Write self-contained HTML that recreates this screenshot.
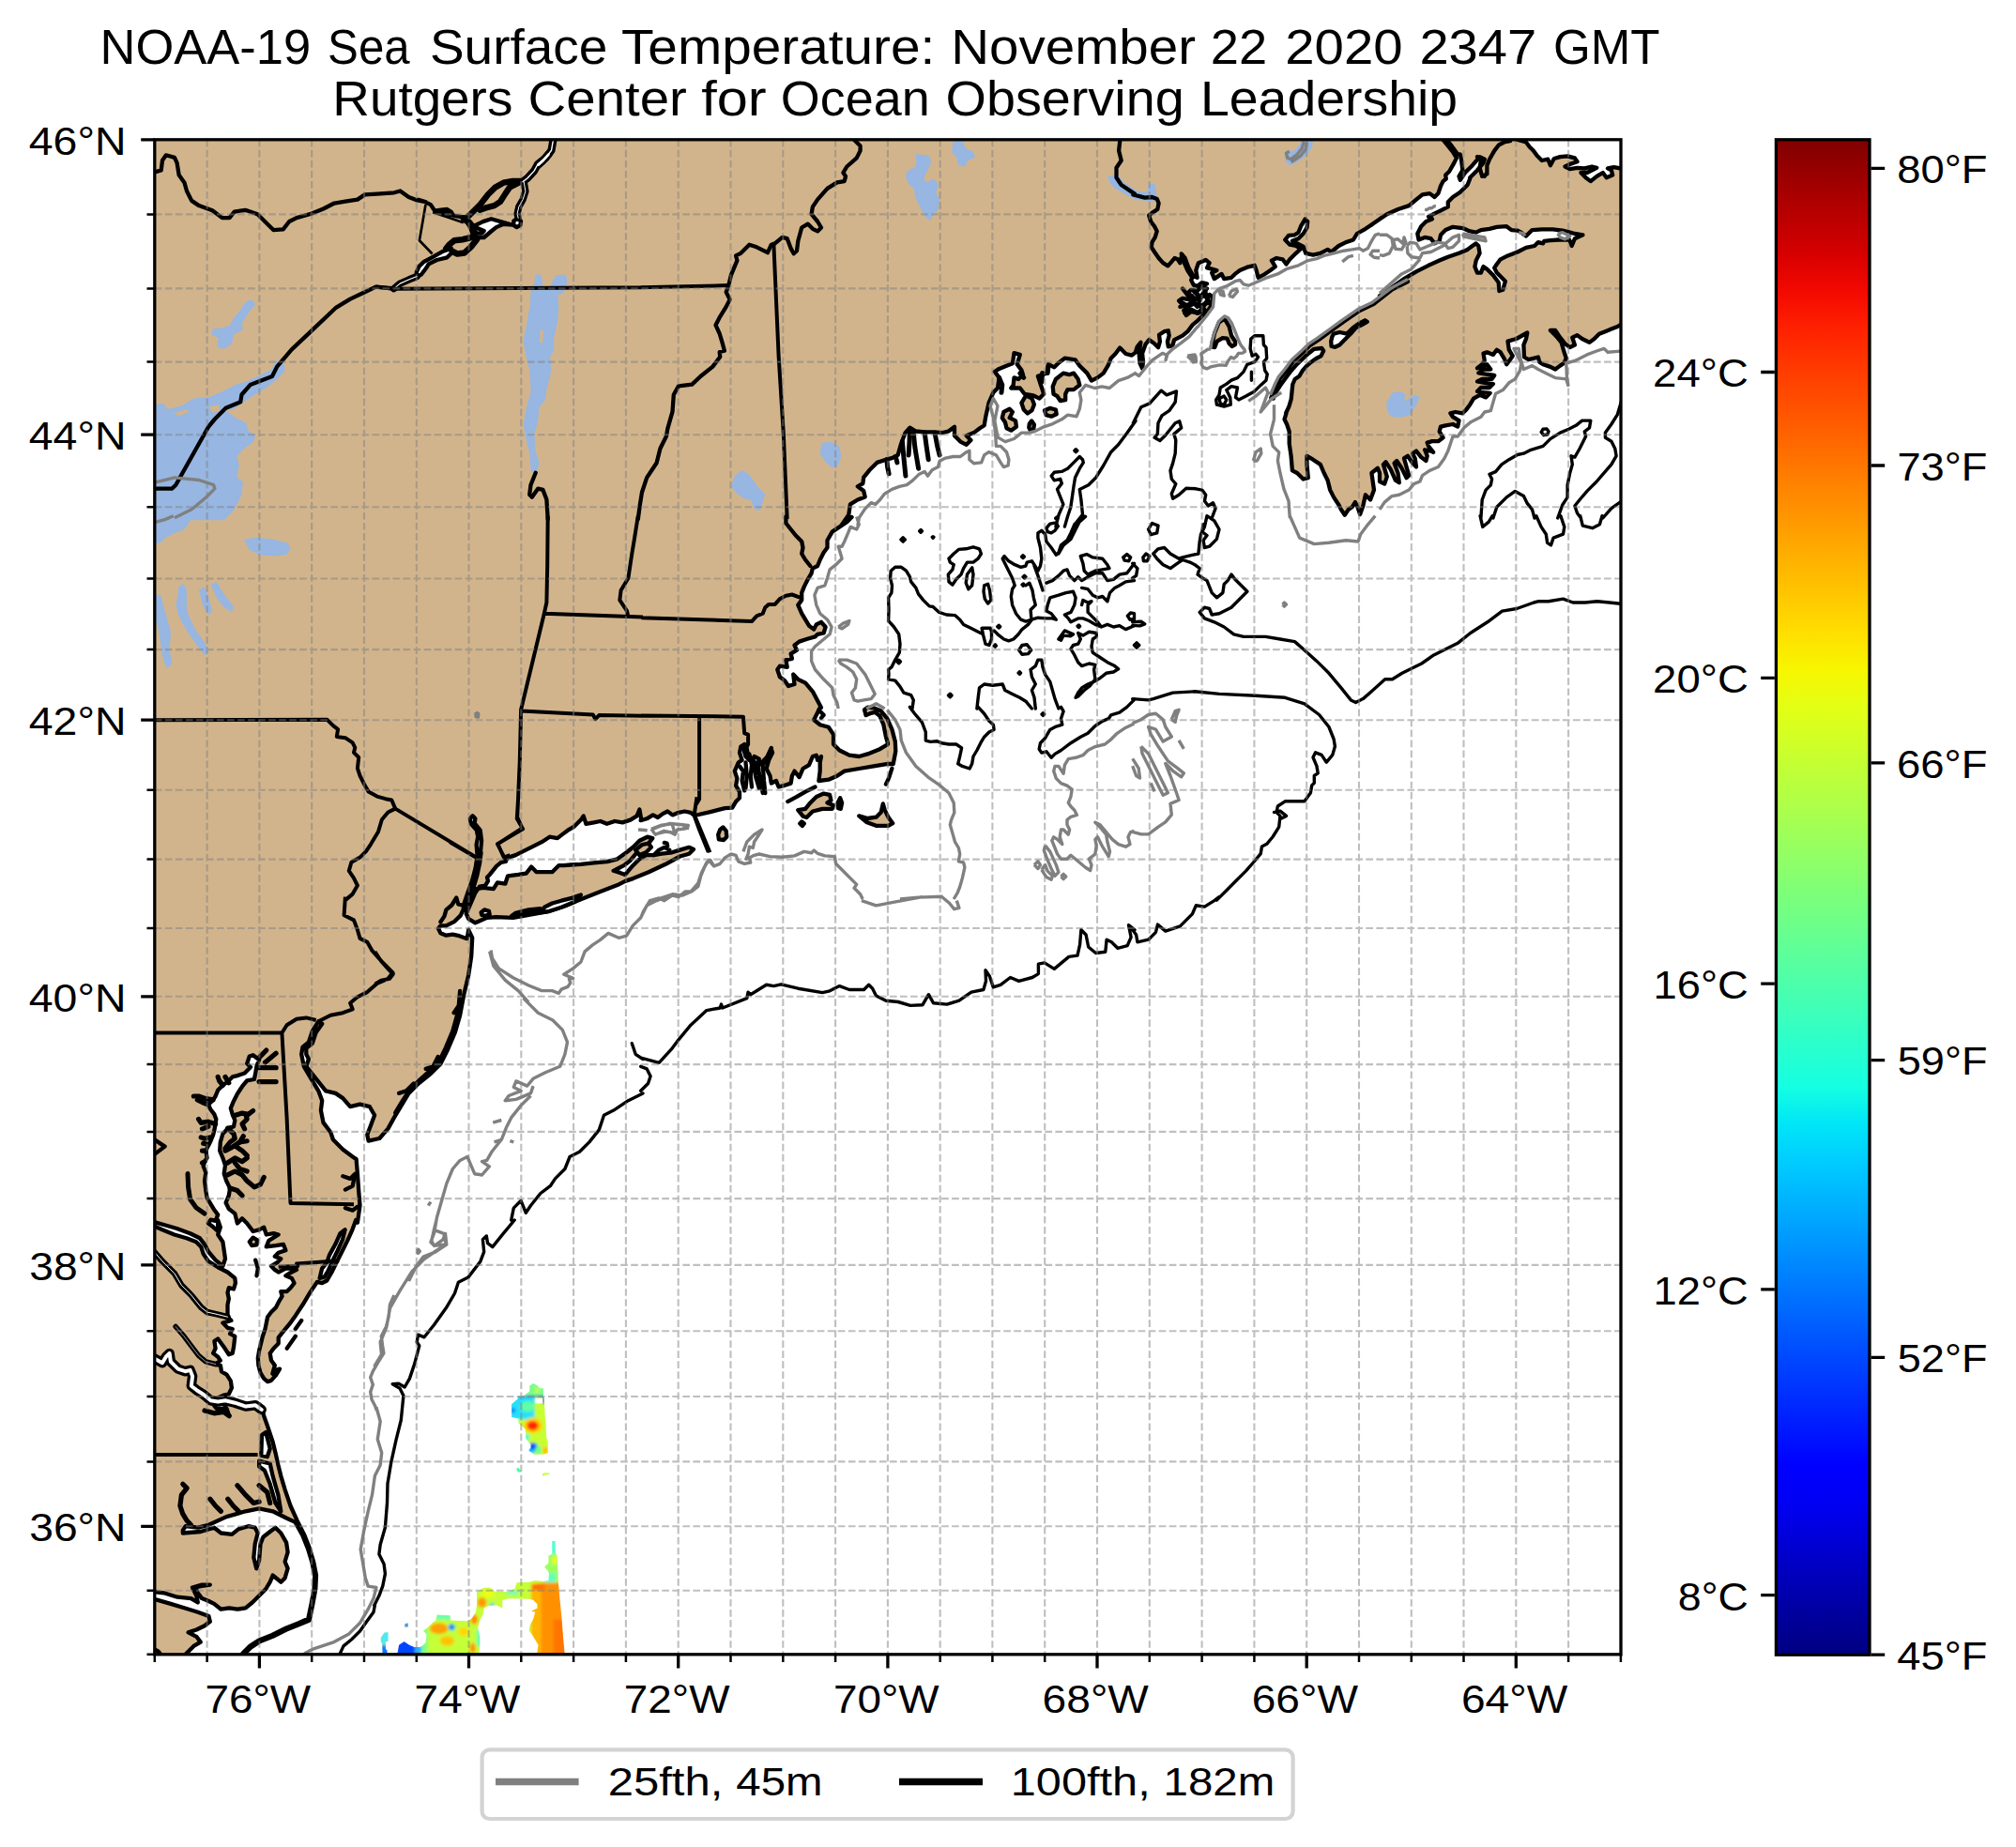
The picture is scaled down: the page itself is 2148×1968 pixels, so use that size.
<!DOCTYPE html>
<html><head><meta charset="utf-8"><title>NOAA-19 Sea Surface Temperature</title>
<style>html,body{margin:0;padding:0;background:#fff;}body{width:2148px;height:1968px;overflow:hidden;}svg{display:block;}text{font-family:"Liberation Sans",sans-serif;fill:#000;}</style></head><body>
<svg width="2148" height="1968" viewBox="0 0 2148 1968">
<defs><clipPath id="ax"><rect x="164.8" y="148.8" width="1562.2" height="1614.0"/></clipPath>
<linearGradient id="jet" x1="0" y1="0" x2="0" y2="1"><stop offset="0.0000" stop-color="#800000"/><stop offset="0.0250" stop-color="#9c0000"/><stop offset="0.0500" stop-color="#b90000"/><stop offset="0.0750" stop-color="#d60000"/><stop offset="0.1000" stop-color="#f30900"/><stop offset="0.1250" stop-color="#ff2100"/><stop offset="0.1500" stop-color="#ff3900"/><stop offset="0.1750" stop-color="#ff5000"/><stop offset="0.2000" stop-color="#ff6800"/><stop offset="0.2250" stop-color="#ff8000"/><stop offset="0.2500" stop-color="#ff9700"/><stop offset="0.2750" stop-color="#ffaf00"/><stop offset="0.3000" stop-color="#ffc600"/><stop offset="0.3250" stop-color="#ffde00"/><stop offset="0.3500" stop-color="#f7f600"/><stop offset="0.3750" stop-color="#e2ff15"/><stop offset="0.4000" stop-color="#ceff29"/><stop offset="0.4250" stop-color="#b9ff3e"/><stop offset="0.4500" stop-color="#a5ff52"/><stop offset="0.4750" stop-color="#90ff67"/><stop offset="0.5000" stop-color="#7bff7b"/><stop offset="0.5250" stop-color="#67ff90"/><stop offset="0.5500" stop-color="#52ffa5"/><stop offset="0.5750" stop-color="#3effb9"/><stop offset="0.6000" stop-color="#29ffce"/><stop offset="0.6250" stop-color="#15ffe2"/><stop offset="0.6500" stop-color="#00e5f7"/><stop offset="0.6750" stop-color="#00ccff"/><stop offset="0.7000" stop-color="#00b3ff"/><stop offset="0.7250" stop-color="#0099ff"/><stop offset="0.7500" stop-color="#0080ff"/><stop offset="0.7750" stop-color="#0066ff"/><stop offset="0.8000" stop-color="#004cff"/><stop offset="0.8250" stop-color="#0033ff"/><stop offset="0.8500" stop-color="#001aff"/><stop offset="0.8750" stop-color="#0000ff"/><stop offset="0.9000" stop-color="#0000f3"/><stop offset="0.9250" stop-color="#0000d6"/><stop offset="0.9500" stop-color="#0000b9"/><stop offset="0.9750" stop-color="#00009c"/><stop offset="1.0000" stop-color="#000080"/></linearGradient></defs>
<rect x="0" y="0" width="2148" height="1968" fill="#fff"/>
<g clip-path="url(#ax)">
<defs><filter id="sb1" x="-10%" y="-10%" width="120%" height="120%"><feGaussianBlur stdDeviation="17"/></filter><filter id="sb2" x="-10%" y="-10%" width="120%" height="120%"><feGaussianBlur stdDeviation="20"/></filter><clipPath id="sc1"><path d="M1725,385L1755,385L1758,500L1775,530L1780,640L1785,780L1800,950L1820,1150L1835,1350L1850,1500L1575,1500L1590,1400L1560,1350L1530,1300L1500,1260L1510,1200L1540,1150L1560,1080L1520,1070L1580,1040L1580,1000L1540,960L1500,950L1300,945L1240,960L1240,1040L1180,1010L1100,1020L1060,1040L1050,1100L1020,1160L1000,1230L1020,1320L1020,1400L1010,1500L210,1500L230,1400L280,1365L330,1400L380,1420L440,1420L490,1380L500,1300L470,1260L520,1220L560,1180L590,1160L600,1105L730,1110L735,1160L900,1165L940,1140L980,1080L990,1000L990,880L1060,840L1120,840L1170,880L1300,880L1360,850L1380,790L1500,785L1560,770L1640,780L1690,770L1695,700L1680,670L1650,640L1690,600L1690,530L1725,510ZM50,1330L90,1275L125,1275L125,1360L100,1370L100,1440L115,1450L115,1500L70,1500L65,1380L50,1375ZM285,1195L310,1185L320,1190L320,1225L285,1225Z"/></clipPath><clipPath id="sc2"><path clip-rule="evenodd" d="M545,330L590,295L640,320L680,360L725,360L725,465L738,490L740,560L745,700L760,850L765,1000L785,1060L785,1210L740,1225L610,1230L530,1175L560,1140L560,1100L495,1020L490,900L440,850L400,820L400,760L310,740L308,570L390,500L390,465L470,455L545,400ZM620,490L620,560L715,560L715,490ZM370,1410L400,1400L430,1440L425,1465L385,1455ZM715,1480L750,1468L810,1470L810,1488L745,1495L735,1512L715,1508Z"/></clipPath></defs><g transform="translate(400,1600) scale(0.10913)"><g clip-path="url(#sc1)"><g filter="url(#sb1)"><rect x="0" y="300" width="2016" height="1300" fill="#c4ff38"/><rect x="1520" y="800" width="120" height="760" fill="#ffb400"/><rect x="1620" y="790" width="260" height="780" fill="#ff9000"/><rect x="1740" y="1150" width="160" height="420" fill="#ff7400"/><ellipse cx="1590" cy="835" rx="70" ry="35" fill="#ff7000"/><rect x="1640" y="500" width="180" height="270" fill="#9cff60"/><rect x="1700" y="360" width="80" height="150" fill="#50ffd0"/><ellipse cx="1750" cy="570" rx="25" ry="50" fill="#e8ff18"/><rect x="1650" y="700" width="110" height="90" fill="#60ffc0"/><ellipse cx="1040" cy="985" rx="45" ry="50" fill="#ff9800"/><ellipse cx="1140" cy="1005" rx="22" ry="16" fill="#10c0ff"/><rect x="1280" y="870" width="120" height="40" fill="#70ffb0"/><ellipse cx="1100" cy="900" rx="70" ry="40" fill="#e8ff18"/><ellipse cx="620" cy="1240" rx="90" ry="55" fill="#ffa000"/><ellipse cx="700" cy="1360" rx="70" ry="50" fill="#ffc400"/><ellipse cx="860" cy="1270" rx="50" ry="45" fill="#ffd800"/><ellipse cx="965" cy="1150" rx="35" ry="50" fill="#ff9000"/><ellipse cx="950" cy="1430" rx="30" ry="50" fill="#ff9800"/><ellipse cx="745" cy="1225" rx="32" ry="32" fill="#0090ff"/><rect x="590" y="1100" width="150" height="50" fill="#60ffb0"/><rect x="990" y="1250" width="50" height="160" fill="#60ffb0"/><rect x="450" y="1240" width="60" height="240" fill="#80ff80"/><rect x="200" y="1350" width="190" height="160" fill="#0044ff"/><rect x="390" y="1400" width="60" height="110" fill="#20b0ff"/><rect x="40" y="1260" width="100" height="130" fill="#50e8f0"/><rect x="40" y="1400" width="100" height="110" fill="#1078ff"/><rect x="280" y="1180" width="45" height="50" fill="#1a70ff"/></g></g></g><g transform="translate(520,1450) scale(0.08121)"><g clip-path="url(#sc2)"><g filter="url(#sb2)"><rect x="250" y="250" width="600" height="1300" fill="#c8ff30"/><rect x="500" y="270" width="260" height="190" fill="#78ff88"/><ellipse cx="640" cy="390" rx="40" ry="40" fill="#b8ff50"/><rect x="280" y="470" width="330" height="300" fill="#28e0f8"/><rect x="380" y="455" width="360" height="22" fill="#1070e0"/><ellipse cx="325" cy="650" rx="35" ry="35" fill="#1088ff"/><ellipse cx="520" cy="600" rx="90" ry="70" fill="#60ffa0"/><ellipse cx="590" cy="850" rx="125" ry="105" fill="#ffd000"/><ellipse cx="585" cy="850" rx="75" ry="60" fill="#ff2800"/><rect x="480" y="960" width="60" height="80" fill="#40ffd0"/><ellipse cx="590" cy="1130" rx="60" ry="55" fill="#0058ff"/><ellipse cx="560" cy="1190" rx="60" ry="30" fill="#10c8ff"/><ellipse cx="660" cy="1170" rx="40" ry="60" fill="#70ff90"/><ellipse cx="755" cy="1175" rx="40" ry="45" fill="#ffc000"/><rect x="712" y="485" width="30" height="80" fill="#0040d0"/><rect x="350" y="1390" width="100" height="90" fill="#40ffb0"/></g></g></g><rect x="210.8" y="1623" width="3.2" height="10.5" fill="#1a6cff"/>
<path d="M160.0 1770.0L258.7 1767.0L260.1 1762.6L267.4 1755.4L276.1 1749.6L290.6 1743.8L305.1 1736.5L319.6 1730.7L329.8 1726.4L333.4 1708.9L336.3 1693.0L337.0 1678.5L334.1 1664.0L329.8 1649.5L324.0 1634.9L316.7 1620.4L309.5 1604.5L303.6 1587.1L299.3 1572.6L296.4 1560.9L293.5 1547.9L290.6 1536.3L284.8 1518.9L281.2 1508.7L279.0 1500.0L276.4 1496.4L270.9 1496.4L267.7 1500.8L258.9 1498.6L248.0 1494.2L241.5 1492.0L238.2 1495.3L241.5 1500.8L243.7 1507.3L240.4 1506.2L237.1 1500.8L230.6 1500.8L227.3 1496.4L231.6 1489.8L238.2 1486.6L243.7 1485.5L246.9 1478.9L245.8 1471.3L241.5 1464.7L236.0 1461.5L234.9 1454.9L228.4 1453.8L229.6 1453.5L234.8 1449.6L232.2 1445.7L227.1 1441.9L229.6 1436.7L228.4 1429.0L232.2 1426.4L238.7 1435.4L243.8 1443.2L247.7 1441.9L249.0 1435.4L250.3 1423.8L245.1 1421.2L247.7 1416.1L242.5 1414.8L237.4 1409.6L246.4 1407.0L242.5 1403.2L242.5 1390.3L243.8 1383.8L242.5 1377.4L243.8 1372.2L249.0 1373.5L250.9 1367.1L250.3 1361.9L242.5 1355.5L232.2 1350.3L221.9 1343.8L216.7 1336.1L214.2 1328.4L209.0 1323.2L198.7 1319.3L185.8 1315.5L172.9 1310.3L161.3 1305.2L161.3 1301.3L175.5 1305.2L188.4 1309.0L202.6 1314.2L212.9 1319.3L218.0 1325.8L221.9 1333.5L229.6 1342.6L237.4 1349.0L240.0 1341.3L238.7 1332.2L237.4 1323.2L232.2 1315.5L234.8 1307.7L232.2 1300.0L232.2 1312.0L227.1 1307.3L221.9 1303.5L224.5 1299.6L229.6 1300.9L232.2 1294.4L228.4 1289.3L224.5 1282.8L220.6 1276.4L219.3 1268.6L218.0 1258.3L219.3 1249.3L216.7 1242.8L218.0 1237.7L220.6 1233.8L219.3 1226.1L221.9 1220.9L224.5 1215.8L227.1 1209.3L228.4 1204.1L229.6 1197.7L230.3 1192.5L228.4 1187.4L224.5 1182.2L221.9 1177.1L227.1 1171.9L229.6 1168.0L232.2 1161.6L237.4 1156.4L242.5 1152.6L247.7 1147.4L252.9 1146.1L260.6 1143.5L267.0 1137.1L263.2 1133.2L265.8 1125.5L269.6 1124.2L276.1 1129.3L273.5 1135.8L272.2 1143.5L270.9 1150.0L263.2 1151.3L258.0 1157.7L252.9 1165.5L249.0 1173.2L245.8 1180.9L247.7 1187.4L250.3 1193.8L249.0 1200.3L243.8 1201.6L237.4 1208.0L234.8 1217.0L234.2 1226.1L237.4 1233.8L240.0 1241.5L238.7 1250.6L241.2 1258.3L245.1 1266.1L243.8 1273.8L240.6 1281.5L243.8 1288.0L250.3 1293.1L252.9 1303.5L258.0 1298.3L263.2 1303.5L269.6 1312.0L269.6 1312.0L276.1 1310.3L281.2 1307.7L283.8 1315.5L291.5 1314.2L296.7 1315.5L286.4 1321.9L283.8 1328.4L294.1 1327.1L301.9 1325.8L304.4 1332.2L296.7 1334.8L292.8 1338.7L299.3 1341.3L295.4 1345.1L289.0 1349.0L292.8 1352.9L296.7 1355.5L304.4 1351.6L312.2 1351.6L316.1 1352.9L308.3 1356.7L304.4 1359.3L310.9 1361.9L313.5 1367.1L309.6 1372.2L305.7 1376.1L299.3 1376.1L300.6 1381.2L296.7 1387.7L294.1 1392.9L289.0 1398.0L285.1 1403.2L283.8 1409.6L282.5 1416.1L279.9 1423.8L278.0 1431.5L276.1 1439.3L274.8 1447.0L275.4 1454.8L277.4 1462.5L281.2 1468.9L285.1 1472.2L289.0 1470.9L294.1 1465.1L298.0 1458.6L294.1 1459.9L290.3 1463.8L292.8 1454.8L289.0 1449.6L287.7 1441.9L291.5 1436.7L296.7 1431.5L296.7 1425.1L301.9 1418.7L308.3 1410.9L314.8 1401.9L322.5 1390.3L330.2 1377.4L338.0 1365.8L343.1 1367.1L348.3 1364.5L353.5 1355.5L358.6 1345.1L363.8 1334.8L370.2 1321.9L375.4 1310.3L379.2 1300.0L380.9 1302.7L383.5 1284.5L382.2 1268.9L380.9 1250.7L379.6 1235.1L375.7 1232.5L365.3 1224.7L354.9 1214.3L352.3 1206.5L344.5 1196.1L341.9 1183.1L343.2 1172.7L339.3 1162.3L331.5 1149.3L323.8 1136.3L321.2 1123.3L322.5 1115.6L328.9 1110.4L332.8 1098.7L339.3 1088.3L343.2 1090.9L336.7 1100.0L332.8 1111.7L326.3 1116.9L326.3 1123.3L328.9 1128.5L326.3 1136.3L336.7 1149.3L347.1 1162.3L357.5 1164.9L365.3 1170.1L373.1 1179.2L383.5 1176.6L393.9 1179.2L399.1 1188.3L395.2 1198.7L391.3 1209.1L392.6 1215.6L404.3 1213.0L413.4 1202.6L419.9 1190.9L427.7 1177.9L435.5 1164.9L445.9 1154.5L458.9 1144.1L469.3 1133.7L477.1 1118.2L484.9 1100.0L490.1 1081.8L494.0 1061.0L495.2 1055.8L499.2 1038.9L502.2 1019.0L503.2 999.2L499.2 990.8L497.7 1000.2L489.3 997.2L482.3 995.7L475.4 996.7L469.4 994.2L467.0 989.3L469.4 986.3L475.4 986.3L484.3 981.8L490.8 975.4L493.8 968.5L494.2 963.5L498.2 951.6L503.2 937.7L506.6 924.8L508.6 911.9L507.6 900.0L509.2 891.7L507.8 884.7L501.9 877.8L500.8 872.2L503.6 869.2L506.4 872.2L505.6 877.1L511.7 884.7L513.1 895.8L511.9 908.3L512.6 908.3L511.1 919.8L508.1 933.7L504.2 946.6L499.2 959.5L495.7 969.4L497.7 971.4L501.2 963.5L506.2 951.6L511.1 944.6L517.1 943.7L520.0 938.7L519.0 934.7L522.0 931.7L529.0 922.8L533.9 918.8L538.9 917.9L540.9 912.9L541.1 913.9L549.4 911.1L557.8 906.9L568.9 901.4L577.2 897.2L585.6 891.7L593.9 893.1L599.4 888.9L605.0 884.7L611.9 880.6L618.9 873.6L621.7 869.4L624.4 877.8L632.8 876.4L639.7 875.0L646.7 877.8L655.0 875.0L663.3 876.4L671.7 873.6L678.6 869.4L681.4 862.5L683.1 872.2L682.7 874.2L689.2 872.3L695.7 868.4L700.9 871.0L706.1 867.1L711.3 864.5L716.5 868.4L723.0 865.8L729.5 864.5L736.0 865.8L739.9 869.0L756.8 865.1L772.4 861.2L780.2 860.6L784.1 854.1L788.0 850.2L788.0 843.7L784.1 837.2L785.4 829.4L782.8 821.6L786.7 812.5L790.6 809.9L788.0 802.1L789.3 795.6L793.2 793.0L795.8 798.2L797.1 806.0L801.0 811.2L803.6 806.0L808.8 808.6L807.5 816.4L812.7 811.2L817.9 806.0L821.8 798.2L823.1 802.1L819.2 809.9L816.6 819.0L820.5 826.8L821.8 834.6L827.0 832.0L829.6 838.5L834.8 837.2L842.6 834.6L843.9 826.8L846.5 821.6L851.6 828.1L855.5 819.0L862.0 815.1L865.9 806.0L869.8 804.7L871.1 809.9L875.0 806.0L873.7 812.5L873.7 821.6L872.4 832.0L882.8 830.7L891.9 826.8L899.7 821.6L915.3 819.0L930.9 816.4L946.0 813.8L946.0 813.8L951.7 814.0L954.3 800.5L953.8 790.1L950.4 777.1L945.2 765.4L938.7 757.6L930.9 754.3L924.4 753.7L921.0 756.3L922.6 762.1L927.0 760.2L932.2 758.9L937.4 762.8L941.3 771.9L943.9 784.9L946.0 792.2L946.0 793.0L937.4 798.2L924.4 803.4L915.3 806.0L904.9 804.7L894.5 799.5L888.0 793.0L888.0 782.6L882.8 774.8L873.7 772.2L867.2 767.0L871.1 759.2L873.7 754.0L875.0 754.0L865.9 736.8L858.1 727.7L850.3 723.8L845.2 718.6L846.5 729.0L840.0 731.0L836.1 725.1L830.9 721.2L828.3 713.5L830.9 709.6L838.7 710.9L837.4 703.1L843.9 701.8L842.6 696.6L849.0 692.7L846.5 687.5L851.6 683.6L859.4 681.0L868.5 678.4L871.1 675.8L877.6 674.5L879.6 668.0L875.0 662.8L869.8 665.4L867.2 670.6L862.0 666.7L858.1 660.2L854.2 653.7L850.3 644.6L854.2 639.4L854.2 631.6L856.8 625.1L860.7 617.3L864.6 610.8L865.9 605.6L871.1 603.0L873.7 596.5L877.6 588.7L881.5 583.5L881.5 575.7L886.7 566.6L894.5 561.4L902.3 556.2L907.5 551.0L896.3 560.0L904.3 548.4L905.9 537.3L913.8 532.5L921.7 529.4L920.2 523.0L913.8 518.3L919.4 515.1L920.2 508.7L926.5 500.8L934.4 492.9L944.0 489.7L950.3 488.1L956.7 484.9L959.8 473.8L964.6 461.1L969.4 455.6L975.7 459.5L985.2 460.3L994.8 460.3L1004.3 461.1L1010.6 459.5L1017.0 454.8L1017.0 464.3L1023.3 470.6L1029.7 473.8L1034.4 469.0L1029.7 464.3L1037.6 461.1L1044.0 456.3L1048.7 453.2L1050.3 443.7L1053.5 429.4L1058.3 418.3L1063.0 413.5L1064.6 402.4L1059.8 396.0L1064.6 392.9L1072.5 389.7L1078.9 387.3L1080.5 376.2L1086.8 377.8L1083.7 388.1L1088.4 394.4L1090.0 399.2L1085.2 404.0L1080.5 402.4L1079.7 410.3L1077.3 413.5L1086.8 413.5L1091.6 419.8L1101.1 421.4L1107.5 424.6L1112.2 419.8L1109.0 410.3L1105.9 400.8L1115.4 397.6L1117.0 388.1L1123.3 391.3L1128.1 386.5L1134.4 381.7L1145.6 383.3L1150.3 389.7L1158.3 397.6L1163.0 405.6L1169.4 402.4L1175.7 397.6L1180.5 389.7L1183.7 381.7L1188.4 377.0L1193.2 370.6L1199.5 377.0L1205.9 378.6L1210.0 375.4L1210.0 374.6L1211.8 369.3L1215.4 364.8L1213.6 376.4L1214.5 387.1L1217.1 392.5L1218.0 385.4L1217.1 376.4L1220.7 366.6L1224.3 362.1L1229.6 365.7L1234.1 370.2L1235.9 363.9L1235.0 356.8L1240.4 353.2L1244.8 352.3L1245.7 357.7L1243.9 363.9L1244.8 369.3L1249.3 368.4L1251.1 362.1L1254.6 360.4L1260.0 357.7L1265.4 353.2L1270.7 346.1L1276.1 341.6L1282.3 335.4L1287.7 330.0L1291.2 324.6L1292.1 317.5L1292.5 316.5L1288.6 313.9L1286.0 320.4L1280.8 329.5L1275.6 333.4L1269.1 332.1L1263.9 336.0L1261.3 330.8L1265.2 326.9L1260.0 324.3L1256.1 320.4L1260.0 317.8L1266.5 319.1L1270.4 315.2L1265.2 312.6L1269.1 308.8L1275.6 310.0L1280.8 304.9L1286.0 302.3L1280.8 301.0L1275.6 304.9L1271.7 303.6L1269.1 298.4L1270.4 295.8L1265.2 288.0L1261.3 278.9L1258.7 270.4L1262.6 275.0L1266.5 285.4L1271.7 294.5L1275.6 295.8L1274.3 288.0L1276.9 280.2L1284.7 276.9L1288.6 280.2L1286.0 285.4L1291.2 286.7L1296.4 288.0L1291.2 290.6L1293.8 297.1L1301.6 291.9L1304.2 297.1L1312.0 295.8L1315.9 291.9L1321.1 288.0L1328.9 284.7L1336.7 282.8L1338.6 288.0L1340.6 295.8L1345.8 293.2L1353.6 288.0L1358.8 284.1L1354.9 277.6L1360.1 275.0L1366.6 276.3L1370.5 281.5L1374.3 276.3L1380.8 269.8L1386.0 265.2L1380.8 262.0L1374.3 260.7L1369.2 255.5L1373.0 250.9L1379.5 250.3L1383.4 247.7L1386.0 241.2L1390.6 233.4L1393.2 236.0L1392.5 242.5L1388.6 249.0L1383.4 254.2L1376.9 256.8L1382.1 259.4L1388.6 262.6L1391.2 269.8L1399.0 271.7L1406.8 269.8L1414.6 265.9L1418.5 268.5L1426.3 262.0L1434.1 258.1L1441.9 255.5L1445.8 249.0L1454.9 243.8L1462.7 238.6L1470.0 233.4L1470.0 233.4L1477.8 228.2L1489.5 223.0L1501.2 219.1L1509.0 212.6L1515.5 207.4L1523.3 206.1L1528.5 210.0L1532.4 206.1L1535.0 198.3L1537.6 193.1L1540.8 190.5L1540.2 186.6L1544.1 182.7L1549.3 173.6L1551.9 168.4L1548.0 161.9L1542.8 155.4L1536.9 148.2L1540.8 148.2L1546.7 155.4L1553.2 164.5L1555.8 164.5L1557.1 171.0L1558.4 181.4L1554.5 187.9L1555.8 191.8L1561.0 184.0L1568.8 176.2L1576.6 167.1L1581.8 169.7L1580.5 173.6L1574.0 181.4L1566.2 189.2L1566.2 190.5L1563.6 197.0L1555.8 204.8L1548.0 210.0L1542.8 215.2L1542.8 220.4L1535.0 224.3L1527.2 228.2L1522.0 230.8L1525.9 233.4L1519.4 236.0L1514.2 241.2L1510.3 249.0L1511.6 255.5L1518.1 252.9L1524.6 254.2L1528.5 259.4L1533.7 256.8L1535.0 250.3L1540.2 245.1L1548.0 241.8L1558.4 243.1L1566.2 246.4L1572.7 247.7L1577.9 245.1L1587.0 243.8L1594.8 241.8L1605.2 241.2L1610.4 245.1L1616.9 245.7L1620.8 247.7L1626.0 251.6L1632.5 245.1L1642.8 244.4L1654.5 244.4L1664.9 245.7L1672.7 247.7L1677.9 249.0L1686.4 250.3L1677.9 254.2L1674.7 262.0L1672.1 255.5L1661.0 255.5L1651.9 256.1L1645.4 256.8L1644.1 259.4L1638.9 258.1L1635.0 262.0L1626.0 263.9L1616.9 268.5L1606.5 272.4L1598.7 276.3L1594.8 281.5L1592.2 285.4L1594.8 290.6L1600.0 295.8L1603.9 299.7L1601.3 308.8L1597.4 310.0L1596.7 301.0L1590.9 293.2L1584.4 286.7L1580.5 284.1L1577.9 290.6L1574.0 290.6L1571.4 284.1L1572.7 277.6L1576.6 269.8L1575.3 262.0L1572.7 259.4L1568.8 262.0L1563.6 265.9L1554.5 269.8L1542.8 273.7L1533.7 277.6L1522.0 282.8L1509.0 289.3L1496.0 297.1L1483.0 306.2L1470.0 315.2L1500.0 300.0L1482.9 308.7L1463.8 323.8L1448.7 331.0L1431.3 342.9L1419.4 351.6L1405.1 361.9L1395.6 368.3L1387.6 376.2L1378.1 384.9L1370.2 395.2L1363.8 403.2L1359.8 411.1L1354.3 423.8L1356.7 424.6L1359.7 417.5L1364.4 410.3L1369.5 403.2L1375.5 395.2L1381.8 388.1L1388.6 381.7L1394.6 376.2L1400.2 371.8L1408.3 371.0L1410.2 373.8L1407.5 379.4L1402.7 381.7L1397.1 385.7L1392.4 389.7L1387.6 395.2L1384.4 400.8L1379.7 404.0L1377.3 409.5L1376.5 417.5L1375.7 425.4L1373.3 433.3L1370.2 440.0L1370.5 440.3L1368.5 446.8L1371.1 452.0L1373.7 459.8L1373.7 472.8L1375.6 485.8L1376.9 501.4L1382.1 504.0L1388.6 510.5L1393.8 509.2L1392.5 494.9L1392.5 485.8L1399.0 489.7L1406.8 494.9L1410.7 504.0L1414.6 511.8L1417.2 522.1L1421.1 529.9L1426.3 537.7L1428.9 542.9L1432.8 548.8L1436.7 542.9L1440.6 540.3L1443.9 535.1L1446.5 540.3L1449.1 548.1L1452.3 539.0L1454.9 527.3L1460.1 532.5L1464.0 522.1L1461.4 504.0L1467.9 498.8L1470.0 504.0L1470.0 513.0L1475.2 515.6L1477.8 507.9L1473.9 494.9L1476.5 492.3L1481.7 500.1L1486.9 511.8L1490.8 514.3L1489.5 504.0L1485.6 493.6L1488.2 491.0L1493.4 498.8L1498.6 509.2L1501.2 506.6L1498.6 497.5L1496.0 488.4L1499.9 485.8L1505.1 493.6L1509.0 497.5L1507.7 488.4L1505.1 483.2L1509.0 480.6L1514.2 487.1L1519.4 491.0L1520.7 485.8L1518.1 479.3L1524.6 480.6L1527.2 481.9L1522.0 475.4L1520.7 471.5L1525.9 470.2L1532.4 470.2L1537.6 466.3L1533.7 459.8L1535.0 454.6L1540.2 453.3L1548.0 452.0L1553.2 454.6L1554.5 448.1L1548.0 444.2L1545.4 440.3L1550.6 439.0L1558.4 440.3L1562.3 436.4L1566.2 431.2L1570.1 424.7L1576.6 420.8L1583.1 423.4L1587.6 418.8L1580.5 418.2L1574.0 416.9L1577.9 413.0L1587.0 413.0L1590.9 409.1L1581.8 407.8L1574.0 406.5L1579.2 403.9L1589.6 403.9L1592.2 400.0L1583.1 398.7L1575.3 397.4L1580.5 393.5L1588.3 393.5L1584.4 388.3L1577.9 390.9L1574.0 392.2L1579.2 388.3L1581.8 384.4L1580.5 376.6L1584.4 375.3L1590.9 377.9L1594.8 372.7L1598.7 375.3L1602.6 381.8L1605.2 388.3L1609.1 383.1L1611.7 379.2L1607.8 372.7L1606.5 363.6L1615.6 361.0L1627.3 354.5L1626.0 361.0L1623.4 367.5L1624.0 380.5L1628.6 383.1L1633.8 381.8L1638.9 380.5L1640.2 385.7L1644.1 388.3L1651.9 390.9L1657.1 393.5L1662.3 389.6L1666.2 387.0L1668.8 381.8L1666.2 374.0L1663.6 364.9L1658.4 358.4L1651.9 351.9L1657.1 351.9L1662.3 359.7L1667.5 366.2L1672.7 370.1L1677.9 367.5L1675.3 359.7L1680.5 357.1L1685.7 361.0L1693.5 364.9L1698.7 361.0L1703.9 355.8L1710.4 353.2L1716.9 350.6L1723.4 348.0L1732.0 342.8L1735.0 330.0L1735.0 140.0L160.0 140.0ZM1124.9 404.0L1132.9 397.6L1139.2 399.2L1144.0 397.6L1148.7 404.0L1150.3 410.3L1144.0 415.1L1137.6 415.1L1135.2 419.8L1135.2 426.2L1129.7 427.0L1126.5 422.2L1122.5 419.8L1121.7 411.9ZM1069.4 438.9L1075.7 435.7L1078.9 438.9L1075.7 445.2L1082.1 448.4L1082.9 454.8L1077.3 458.7L1072.5 456.3L1071.0 450.0L1067.8 445.2ZM1088.4 429.4L1093.2 421.4L1099.5 424.6L1101.9 431.0L1099.5 437.3L1094.8 440.5L1090.8 436.5ZM1096.8 451.6L1099.2 448.4L1101.9 452.4L1101.1 457.9L1098.3 459.5L1096.3 455.6ZM1113.0 437.3L1118.6 434.9L1124.9 436.5L1125.7 441.3L1120.2 443.7L1114.6 442.1ZM1304.6 339.3L1298.7 343.8L1294.2 354.7L1290.8 369.6L1294.2 370.1L1296.7 363.7L1302.7 360.2L1307.6 360.7L1309.6 366.1L1312.6 369.1L1316.1 367.1L1316.1 363.7L1312.1 357.7L1309.6 347.8ZM496.7 973.6L500.8 961.1L507.8 947.2L514.7 945.8L525.8 947.2L530.0 940.3L538.3 941.7L541.1 933.3L552.2 931.9L560.6 930.6L566.1 923.6L571.7 929.2L580.0 929.2L588.3 929.2L595.3 922.2L600.8 922.2L607.8 921.5L618.9 920.8L632.8 919.4L646.7 918.1L657.8 915.3L667.5 908.3L674.4 902.8L681.4 895.8L689.7 891.7L695.3 893.1L691.1 898.6L684.2 904.2L678.6 908.3L671.7 916.7L664.7 922.2L659.2 925.0L653.6 927.8L660.6 929.9L666.1 931.9L674.4 922.2L681.4 915.3L688.3 911.1L696.7 911.1L705.0 909.7L716.1 908.3L724.4 905.6L734.2 902.8L739.0 904.9L734.2 909.7L724.4 912.5L709.2 920.8L691.1 929.2L674.4 936.1L666.1 938.9L657.8 943.1L639.7 950.0L618.9 958.3L602.2 965.3L585.6 970.8L570.3 973.6L546.7 977.8L528.6 977.1L518.9 977.8L506.4 983.3L499.4 979.2ZM850.3 863.2L858.1 861.9L863.3 855.4L869.8 848.9L877.6 845.6L884.1 846.9L885.4 852.8L881.5 855.4L888.0 858.0L886.7 861.9L876.3 861.9L865.9 864.5L859.4 871.0L855.5 869.7ZM892.6 855.4L895.2 850.2L897.1 855.4L895.8 861.9L893.2 861.2ZM852.3 877.5L854.2 875.5L856.8 877.5L854.9 880.1ZM915.3 869.4L924.4 872.0L933.5 870.7L938.7 865.5L940.8 856.4L942.6 862.9L946.5 870.7L951.2 877.2L946.5 879.8L933.5 879.8L923.1 875.9ZM767.2 884.0L770.4 881.4L773.7 885.3L774.3 891.8L771.1 895.0L765.9 894.4L765.2 889.2Z" fill="#d2b48c" stroke="#000" stroke-width="4.3" stroke-linejoin="round"/>
<path d="M465.5 225.2L472.0 224.4L476.4 224.7L480.2 227.4L479.7 229.6L475.3 228.5L469.8 226.8ZM551.1 232.8L555.0 235.6L554.4 239.9L550.6 242.1L547.3 239.9L547.3 235.6ZM546.2 239.7L534.2 236.4L523.3 233.2L514.6 236.1L504.8 241.0L500.4 235.6L496.0 232.3L492.8 233.4L498.2 237.8L501.5 243.2L503.7 249.8L509.1 253.0L515.7 253.0L523.3 246.5L528.8 242.1L536.4 238.8ZM480.8 264.5L470.9 268.3L461.1 273.8L451.3 279.2L446.4 284.1L443.7 290.1L444.2 295.0L449.1 292.3L454.0 285.8L456.7 281.4L465.5 277.0L476.4 274.3L481.3 269.4ZM1613.0 147.6L1626.0 151.5L1629.9 156.7L1633.8 160.6L1637.6 165.8L1642.8 171.0L1649.3 169.7L1651.9 176.2L1655.8 169.0L1662.3 167.1L1670.1 166.4L1677.9 168.4L1680.5 172.3L1672.7 174.9L1667.5 177.5L1672.7 180.1L1680.5 178.8L1688.3 179.4L1696.1 177.5L1701.3 178.8L1690.9 184.0L1684.4 184.0L1689.6 189.2L1694.8 193.1L1701.3 187.9L1707.8 184.0L1711.7 189.2L1718.2 186.6L1716.9 181.4L1713.0 179.4L1719.5 178.1L1729.9 180.1L1729.9 147.6ZM1421.0 355.6L1427.3 354.0L1435.2 355.6L1441.6 349.2L1447.1 345.2L1454.3 341.3L1456.7 342.9L1451.1 346.0L1444.8 349.2L1439.2 355.6L1433.7 361.1L1427.3 367.5L1422.5 369.8L1418.6 369.0L1418.2 363.5L1419.4 358.7ZM618.9 953.5L611.9 961.1L598.1 966.7L585.6 970.8L577.2 972.2L580.0 966.7L588.3 962.5L598.1 959.7L609.2 956.9ZM575.8 968.1L563.3 969.4L549.4 972.9L545.3 975.7L557.8 975.0L570.3 972.2ZM512.6 972.2L516.1 969.4L521.0 970.8L521.7 974.3L516.8 975.7L513.3 975.0ZM340.6 1361.9L343.1 1351.6L348.3 1345.1L350.9 1337.4L357.3 1325.8L362.5 1314.2L367.6 1310.3L365.1 1320.6L359.9 1332.2L354.7 1342.6L349.6 1354.2L345.7 1360.6ZM194.8 1630.6L197.7 1626.2L210.8 1627.7L222.4 1624.8L241.3 1616.1L261.6 1610.3L276.1 1607.4L290.6 1610.3L305.1 1617.5L314.5 1621.9L322.2 1635.7L328.0 1650.2L332.4 1664.7L335.3 1678.8L334.6 1692.7L331.7 1708.4L328.3 1724.6L318.9 1729.0L304.5 1734.8L290.0 1742.0L275.5 1747.8L266.5 1753.6L258.7 1761.2L255.8 1765.5L194.8 1765.5L200.6 1759.7L206.4 1753.9L213.7 1749.6L209.3 1743.8L200.6 1739.4L209.3 1736.5L218.0 1732.2L223.8 1727.8L222.4 1722.0L210.8 1717.7L196.3 1713.3L181.8 1708.9L161.5 1703.1L161.5 1695.9L174.5 1697.3L189.0 1701.7L203.5 1703.1L210.8 1707.5L209.3 1700.2L205.0 1691.5L215.1 1688.6L223.8 1688.6L213.7 1690.1L207.9 1691.5L210.8 1697.3L215.1 1703.1L222.4 1706.0L228.2 1708.9L235.5 1714.7L244.2 1713.3L252.9 1714.7L261.6 1713.3L268.8 1707.5L276.1 1700.2L283.3 1693.0L287.7 1685.7L290.6 1678.5L299.3 1685.7L303.6 1681.4L306.6 1671.2L303.6 1664.0L306.6 1653.8L305.1 1643.6L299.3 1633.5L293.5 1627.7L287.7 1632.0L280.4 1637.8L277.5 1645.1L276.1 1662.5L273.2 1671.2L270.3 1659.6L271.7 1645.1L274.6 1633.5L271.7 1627.7L264.5 1626.2L254.3 1629.1L247.1 1634.9L235.5 1633.5L228.2 1627.7L213.7 1632.0L194.8 1633.5ZM279.0 1529.0L283.3 1526.1L287.7 1543.5L284.8 1552.2L278.3 1550.8ZM276.1 1556.6L287.7 1559.5L290.6 1572.6L296.4 1592.9L299.3 1610.3L293.5 1601.6L287.7 1581.3L281.9 1566.7L276.1 1562.4ZM161.5 1755.4L168.7 1759.7L174.5 1767.0L161.5 1767.0Z" fill="#fff" stroke="#000" stroke-width="4.3" stroke-linejoin="round"/>
<path d="M503.7 243.8L509.1 243.2L515.7 245.9L513.5 248.7L508.0 248.7ZM677.2 905.6L684.2 900.0L691.1 898.6L693.9 902.8L688.3 908.3L681.4 911.1ZM265.8 1323.2L269.6 1318.7L274.1 1321.3L273.5 1326.4L268.3 1327.1Z" fill="#d2b48c" stroke="#000" stroke-width="4.3" stroke-linejoin="round"/>
<path d="M164.7 432.2L173.0 430.9L178.2 437.4L193.8 433.5L206.8 425.7L222.4 424.4L238.0 417.9L253.6 410.1L264.0 407.5L274.4 402.3L290.0 394.5L295.2 385.4L301.7 388.0L302.4 394.5L295.2 402.3L282.2 412.7L269.2 420.5L261.4 425.7L248.4 434.8L238.0 437.4L251.0 446.5L261.4 451.7L264.0 460.8L270.5 463.4L269.2 469.9L260.1 476.4L251.0 485.5L253.6 495.9L251.0 508.9L257.5 514.1L256.2 527.1L248.4 542.7L238.0 553.1L164.7 553.1ZM269.2 321.2L270.5 324.3L264.0 332.1L260.1 338.6L256.2 345.1L257.5 350.3L248.4 355.5L245.8 365.9L238.0 370.6L232.8 368.5L234.1 359.4L226.3 355.5L227.6 351.6L238.0 350.3L245.8 347.7L249.7 339.9L256.2 332.1L261.4 324.3L265.3 321.2ZM572.0 293.2L575.9 294.5L577.2 306.2L586.3 307.5L592.8 294.5L601.9 293.7L603.2 301.0L599.3 311.3L592.8 313.9L594.1 326.9L592.8 342.5L588.9 360.7L588.9 373.7L585.0 378.9L586.3 394.5L581.1 415.3L579.8 425.7L573.3 433.5L572.0 449.1L568.1 462.1L569.4 480.3L573.3 493.3L570.7 503.7L566.8 501.1L565.5 482.9L561.6 467.3L559.0 451.7L562.9 430.9L566.8 417.9L565.5 394.5L561.6 378.9L559.0 363.3L562.9 342.5L565.5 326.9L566.8 311.3L570.7 301.0ZM976.4 165.3L989.4 167.1L990.7 173.6L985.5 184.0L982.9 190.5L986.8 195.7L994.6 191.8L998.5 197.0L995.9 206.1L999.8 211.3L998.5 223.0L993.3 228.2L990.7 233.4L986.8 230.8L981.6 220.4L976.4 210.0L975.1 200.9L968.6 194.4L966.0 186.6L969.9 181.4L976.4 178.8L977.7 171.0ZM1016.7 149.7L1024.5 149.7L1027.1 158.0L1036.2 163.2L1037.5 167.1L1031.0 169.7L1027.1 176.2L1021.9 174.9L1020.6 167.1L1015.4 161.9ZM1181.7 189.2L1189.5 186.6L1197.3 195.7L1208.0 202.2L1211.6 212.6L1199.9 206.1L1190.8 200.9L1184.3 195.7ZM876.3 473.0L885.4 472.0L893.2 476.4L895.1 485.5L891.9 495.9L886.7 497.2L880.2 490.7L875.0 482.9ZM784.1 507.6L790.6 502.4L798.4 507.6L806.2 519.3L814.0 527.1L811.4 534.9L808.8 542.7L804.9 541.4L801.0 532.3L793.2 529.7L785.4 524.5L780.2 518.0ZM1207.4 203.5L1215.8 205.4L1223.6 206.1L1224.9 197.0L1229.4 197.0L1230.7 206.1L1232.0 210.0L1227.5 213.9L1218.4 212.6L1207.4 210.0ZM1387.3 149.9L1397.7 149.9L1397.1 155.4L1392.5 163.2L1386.0 168.4L1378.2 173.6L1374.3 174.9L1370.5 171.0L1369.8 164.5L1373.0 160.6L1376.9 163.2L1382.1 159.3L1386.0 154.1ZM1484.3 419.5L1492.1 418.2L1496.0 420.8L1495.3 426.0L1498.6 428.6L1502.5 424.7L1507.7 422.1L1510.9 423.4L1509.0 429.9L1505.1 435.1L1502.5 440.3L1496.0 442.9L1486.9 443.5L1481.7 441.6L1479.1 436.4L1478.4 429.9L1481.0 424.7ZM164.7 549.7L204.2 549.7L199.0 558.8L193.8 564.0L186.0 566.6L175.6 571.8L170.4 577.0L164.7 578.3ZM261.4 575.7L274.4 573.9L290.0 575.7L305.6 579.6L308.2 584.8L304.3 590.0L290.0 591.3L277.0 590.0L266.6 584.8ZM191.2 626.4L195.1 623.3L197.7 629.0L197.7 649.8L201.6 660.2L208.1 673.2L215.9 683.6L221.1 692.7L218.5 696.6L212.0 688.8L202.9 675.8L195.1 662.8L191.2 655.0L188.6 644.6L190.7 634.2ZM164.7 634.2L170.4 635.5L175.6 655.0L180.8 673.2L179.5 691.4L182.1 707.0L178.2 710.1L174.3 699.2L171.7 681.0L169.1 665.4L164.7 655.0ZM213.3 629.0L217.2 626.9L221.1 636.8L225.0 651.1L222.4 653.7L217.2 644.6ZM226.3 623.8L230.2 621.2L238.0 634.2L247.1 645.9L247.1 650.5L240.6 647.2L232.8 638.1Z" fill="#97b6e1" stroke="#97b6e1" stroke-width="2.5" stroke-linejoin="round"/>
<path d="M186.0 440.0L199.0 436.1L201.6 438.7L189.9 443.4ZM222.4 433.5L232.8 430.9L234.1 437.4L226.3 440.0ZM575.9 350.3L579.0 352.9L578.0 365.9L574.8 364.6Z" fill="#d2b48c"/>
<path d="M589.3 149.9L587.5 160.3L581.2 168.5L573.0 175.0L569.1 182.1L562.1 189.7L557.1 193.6" fill="none" stroke="#000" stroke-width="8.2" stroke-linejoin="round" stroke-linecap="round"/>
<path d="M584.4 164.6L579.0 170.6L573.5 175.6" fill="none" stroke="#000" stroke-width="8.2" stroke-linejoin="round" stroke-linecap="round"/>
<path d="M557.1 193.0L546.2 193.0L536.4 194.7L527.7 199.6L520.0 207.2L512.4 217.0L504.8 224.7L498.2 231.2" fill="none" stroke="#000" stroke-width="6.4" stroke-linejoin="round" stroke-linecap="round"/>
<path d="M552.8 194.7L543.0 199.6L538.6 206.1L533.1 214.8L526.6 219.2L517.9 221.4L511.3 223.6" fill="none" stroke="#000" stroke-width="6.4" stroke-linejoin="round" stroke-linecap="round"/>
<path d="M558.2 194.1L559.9 203.9L557.1 212.7L552.8 220.3L551.1 227.9L552.2 232.3" fill="none" stroke="#000" stroke-width="7.4" stroke-linejoin="round" stroke-linecap="round"/>
<path d="M502.0 253.0L492.8 255.2L484.0 256.3L478.6 260.7L475.3 265.0" fill="none" stroke="#000" stroke-width="6.6" stroke-linejoin="round" stroke-linecap="round"/>
<path d="M508.0 255.2L501.5 263.4L494.9 269.4L487.3 270.5L481.8 267.8" fill="none" stroke="#000" stroke-width="6.6" stroke-linejoin="round" stroke-linecap="round"/>
<path d="M444.2 294.5L436.0 297.8L426.2 302.1L419.6 307.6" fill="none" stroke="#000" stroke-width="7.4" stroke-linejoin="round" stroke-linecap="round"/>
<path d="M944.8 489.7L945.6 497.6L947.1 504.8" fill="none" stroke="#000" stroke-width="5.0" stroke-linejoin="round" stroke-linecap="round"/>
<path d="M954.3 486.5L955.9 492.9" fill="none" stroke="#000" stroke-width="5.0" stroke-linejoin="round" stroke-linecap="round"/>
<path d="M961.4 470.6L962.7 484.9L963.8 496.0L964.9 507.1" fill="none" stroke="#000" stroke-width="5.0" stroke-linejoin="round" stroke-linecap="round"/>
<path d="M969.4 457.9L969.0 470.6L968.1 484.9" fill="none" stroke="#000" stroke-width="5.0" stroke-linejoin="round" stroke-linecap="round"/>
<path d="M973.3 461.9L974.9 477.0L977.0 489.7L978.6 499.2" fill="none" stroke="#000" stroke-width="5.0" stroke-linejoin="round" stroke-linecap="round"/>
<path d="M985.2 461.1L987.1 475.4L989.2 489.7" fill="none" stroke="#000" stroke-width="5.0" stroke-linejoin="round" stroke-linecap="round"/>
<path d="M996.0 461.1L998.7 475.4L1001.1 484.9" fill="none" stroke="#000" stroke-width="5.0" stroke-linejoin="round" stroke-linecap="round"/>
<path d="M1064.6 402.4L1067.8 410.3L1067.0 418.3" fill="none" stroke="#000" stroke-width="5.0" stroke-linejoin="round" stroke-linecap="round"/>
<path d="M1086.8 397.6L1090.8 402.4" fill="none" stroke="#000" stroke-width="5.0" stroke-linejoin="round" stroke-linecap="round"/>
<path d="M1110.6 397.6L1109.8 407.1" fill="none" stroke="#000" stroke-width="5.0" stroke-linejoin="round" stroke-linecap="round"/>
<path d="M1117.0 389.7L1116.2 397.6" fill="none" stroke="#000" stroke-width="5.0" stroke-linejoin="round" stroke-linecap="round"/>
<path d="M1258.2 322.0L1265.4 326.4L1272.5 322.9L1279.6 326.4L1286.8 322.0" fill="none" stroke="#000" stroke-width="5.0" stroke-linejoin="round" stroke-linecap="round"/>
<path d="M1262.7 333.6L1268.9 330.0L1276.1 333.6L1283.2 330.0" fill="none" stroke="#000" stroke-width="5.0" stroke-linejoin="round" stroke-linecap="round"/>
<path d="M1267.1 315.7L1274.3 318.4L1281.4 315.7" fill="none" stroke="#000" stroke-width="5.0" stroke-linejoin="round" stroke-linecap="round"/>
<path d="M1283.2 306.8L1285.0 315.7L1288.6 322.9" fill="none" stroke="#000" stroke-width="5.0" stroke-linejoin="round" stroke-linecap="round"/>
<path d="M1271.6 309.5L1276.1 313.9" fill="none" stroke="#000" stroke-width="5.0" stroke-linejoin="round" stroke-linecap="round"/>
<path d="M165.2 1334.8L172.9 1343.8L185.8 1356.7L193.5 1369.6L203.8 1380.0L214.2 1392.9L220.6 1398.0L232.2 1400.6L242.5 1403.2" fill="none" stroke="#000" stroke-width="6.5" stroke-linejoin="round" stroke-linecap="round"/>
<path d="M187.1 1413.5L196.1 1423.8L203.8 1434.1L211.6 1444.4L219.3 1450.9L229.6 1453.5" fill="none" stroke="#000" stroke-width="5.5" stroke-linejoin="round" stroke-linecap="round"/>
<path d="M161.3 1445.7L172.9 1452.2L176.8 1445.7L180.6 1441.9L181.9 1450.9L189.7 1458.6L197.4 1461.2L202.6 1459.9L205.1 1466.4L203.8 1476.7L210.3 1481.8L216.7 1485.7L224.5 1492.2L232.2 1493.5L240.0 1492.2L250.3 1494.7L261.9 1498.6L272.2 1497.3L278.7 1502.0" fill="none" stroke="#000" stroke-width="10.5" stroke-linejoin="round" stroke-linecap="round"/>
<path d="M200.0 1250.6L200.6 1264.8L202.6 1277.7L209.0 1286.7L218.0 1293.1" fill="none" stroke="#000" stroke-width="5.0" stroke-linejoin="round" stroke-linecap="round"/>
<path d="M276.1 1126.8L283.8 1119.0" fill="none" stroke="#000" stroke-width="5.2" stroke-linejoin="round" stroke-linecap="round"/>
<path d="M282.5 1131.9L294.1 1122.3" fill="none" stroke="#000" stroke-width="5.2" stroke-linejoin="round" stroke-linecap="round"/>
<path d="M276.1 1137.7L294.1 1137.7" fill="none" stroke="#000" stroke-width="5.2" stroke-linejoin="round" stroke-linecap="round"/>
<path d="M276.1 1152.6L294.1 1152.6" fill="none" stroke="#000" stroke-width="5.2" stroke-linejoin="round" stroke-linecap="round"/>
<path d="M194.8 1581.3L199.2 1585.6L193.4 1592.9L191.9 1604.5L194.8 1613.2L199.2 1620.4L203.5 1624.8" fill="none" stroke="#000" stroke-width="5.2" stroke-linejoin="round" stroke-linecap="round"/>
<path d="M223.8 1597.2L229.6 1604.5L235.5 1610.3" fill="none" stroke="#000" stroke-width="5.2" stroke-linejoin="round" stroke-linecap="round"/>
<path d="M242.7 1597.2L248.5 1604.5L254.3 1610.3" fill="none" stroke="#000" stroke-width="5.2" stroke-linejoin="round" stroke-linecap="round"/>
<path d="M252.9 1582.7L261.6 1592.9L270.3 1601.6L276.1 1600.1" fill="none" stroke="#000" stroke-width="5.2" stroke-linejoin="round" stroke-linecap="round"/>
<path d="M276.1 1582.7L284.8 1590.0L287.7 1601.6" fill="none" stroke="#000" stroke-width="5.2" stroke-linejoin="round" stroke-linecap="round"/>
<path d="M218.0 1502.9L228.2 1505.8L238.4 1504.4L244.2 1508.7" fill="none" stroke="#000" stroke-width="5.2" stroke-linejoin="round" stroke-linecap="round"/>
<path d="M249.0 1188.7L258.0 1186.1L264.5 1187.4L269.6 1183.5" fill="none" stroke="#000" stroke-width="5.2" stroke-linejoin="round" stroke-linecap="round"/>
<path d="M261.9 1187.4L263.2 1192.5L258.0 1197.7L260.6 1202.9" fill="none" stroke="#000" stroke-width="5.2" stroke-linejoin="round" stroke-linecap="round"/>
<path d="M242.5 1202.2L249.0 1208.0L250.3 1213.2L245.1 1217.0L240.0 1223.5" fill="none" stroke="#000" stroke-width="5.2" stroke-linejoin="round" stroke-linecap="round"/>
<path d="M240.0 1226.1L247.7 1222.2L255.4 1217.0L263.2 1215.8" fill="none" stroke="#000" stroke-width="5.2" stroke-linejoin="round" stroke-linecap="round"/>
<path d="M250.3 1220.9L258.0 1226.1L263.2 1231.2" fill="none" stroke="#000" stroke-width="5.2" stroke-linejoin="round" stroke-linecap="round"/>
<path d="M255.4 1217.0L259.3 1210.6" fill="none" stroke="#000" stroke-width="5.2" stroke-linejoin="round" stroke-linecap="round"/>
<path d="M242.5 1239.0L250.3 1233.8L258.0 1237.7L263.2 1233.8" fill="none" stroke="#000" stroke-width="5.2" stroke-linejoin="round" stroke-linecap="round"/>
<path d="M250.3 1239.0L255.4 1245.4L263.2 1248.0" fill="none" stroke="#000" stroke-width="5.2" stroke-linejoin="round" stroke-linecap="round"/>
<path d="M242.5 1251.9L250.3 1248.0L258.0 1251.9L263.2 1258.3L270.9 1264.8L277.4 1262.2L281.2 1254.4" fill="none" stroke="#000" stroke-width="5.2" stroke-linejoin="round" stroke-linecap="round"/>
<path d="M245.1 1266.1L252.9 1268.6L258.0 1273.8" fill="none" stroke="#000" stroke-width="5.2" stroke-linejoin="round" stroke-linecap="round"/>
<path d="M229.6 1197.7L221.9 1195.1L214.2 1196.4L211.6 1192.5" fill="none" stroke="#000" stroke-width="5.2" stroke-linejoin="round" stroke-linecap="round"/>
<path d="M221.9 1200.3L215.5 1202.9" fill="none" stroke="#000" stroke-width="5.2" stroke-linejoin="round" stroke-linecap="round"/>
<path d="M227.1 1171.9L219.3 1170.6L211.6 1168.0L206.4 1168.0" fill="none" stroke="#000" stroke-width="5.2" stroke-linejoin="round" stroke-linecap="round"/>
<path d="M221.9 1177.1L215.5 1174.5L210.3 1171.9" fill="none" stroke="#000" stroke-width="5.2" stroke-linejoin="round" stroke-linecap="round"/>
<path d="M237.4 1156.4L233.5 1151.3L232.2 1147.4" fill="none" stroke="#000" stroke-width="5.2" stroke-linejoin="round" stroke-linecap="round"/>
<path d="M243.8 1153.8L240.0 1147.4" fill="none" stroke="#000" stroke-width="5.2" stroke-linejoin="round" stroke-linecap="round"/>
<path d="M224.5 1211.9L218.0 1213.2L214.2 1211.9" fill="none" stroke="#000" stroke-width="5.2" stroke-linejoin="round" stroke-linecap="round"/>
<path d="M221.9 1219.6L216.7 1218.3" fill="none" stroke="#000" stroke-width="5.2" stroke-linejoin="round" stroke-linecap="round"/>
<path d="M219.3 1226.1L215.5 1226.1" fill="none" stroke="#000" stroke-width="5.2" stroke-linejoin="round" stroke-linecap="round"/>
<path d="M218.0 1237.7L215.5 1239.0" fill="none" stroke="#000" stroke-width="5.2" stroke-linejoin="round" stroke-linecap="round"/>
<path d="M589.3 149.9L587.5 160.3L581.2 168.5L573.0 175.0L569.1 182.1L562.1 189.7L557.1 193.6" fill="none" stroke="#fff" stroke-width="1.4" stroke-linejoin="round" stroke-linecap="round"/>
<path d="M584.4 164.6L579.0 170.6L573.5 175.6" fill="none" stroke="#fff" stroke-width="2.8" stroke-linejoin="round" stroke-linecap="round"/>
<path d="M558.2 194.1L559.9 203.9L557.1 212.7L552.8 220.3L551.1 227.9L552.2 232.3" fill="none" stroke="#fff" stroke-width="1.0" stroke-linejoin="round" stroke-linecap="round"/>
<path d="M444.2 294.5L436.0 297.8L426.2 302.1L419.6 307.6" fill="none" stroke="#fff" stroke-width="1.2" stroke-linejoin="round" stroke-linecap="round"/>
<path d="M165.2 1334.8L172.9 1343.8L185.8 1356.7L193.5 1369.6L203.8 1380.0L214.2 1392.9L220.6 1398.0L232.2 1400.6L242.5 1403.2" fill="none" stroke="#fff" stroke-width="1.0" stroke-linejoin="round" stroke-linecap="round"/>
<path d="M187.1 1413.5L196.1 1423.8L203.8 1434.1L211.6 1444.4L219.3 1450.9L229.6 1453.5" fill="none" stroke="#fff" stroke-width="0.6" stroke-linejoin="round" stroke-linecap="round"/>
<path d="M161.3 1445.7L172.9 1452.2L176.8 1445.7L180.6 1441.9L181.9 1450.9L189.7 1458.6L197.4 1461.2L202.6 1459.9L205.1 1466.4L203.8 1476.7L210.3 1481.8L216.7 1485.7L224.5 1492.2L232.2 1493.5L240.0 1492.2L250.3 1494.7L261.9 1498.6L272.2 1497.3L278.7 1502.0" fill="none" stroke="#fff" stroke-width="4.0" stroke-linejoin="round" stroke-linecap="round"/>
<path d="M400.4 305.6L419.9 307.7L684.0 306.2M682.7 306.2L776.3 304.1M824.4 260.7L826.4 306.2L829.6 378.9L834.8 462.1L838.7 553.1M164.7 767.3L348.4 766.7L354.9 773.2L360.1 777.1L358.8 784.9L367.9 786.2L375.7 791.4L378.3 796.6L377.0 801.8L382.2 807.0L380.9 818.7L383.5 826.5L388.7 836.9L392.6 843.4L401.7 848.6L410.8 851.2L417.3 852.5L421.2 861.6L509.6 914.9M421.2 861.6L413.4 865.5L406.9 873.3L403.0 886.3L395.2 899.3L390.0 907.1L383.5 913.6L374.4 918.8L371.8 927.9L377.0 935.7L380.9 943.5L375.7 952.6L367.9 959.1M583.7 549.7L583.2 603.0L582.4 642.0L579.8 653.7L685.0 657.6M579.8 653.7L555.1 756.3L553.8 810.9L551.2 870.7L556.4 882.4L530.4 899.3L536.9 913.6L543.4 911.0M555.1 757.6L631.8 761.5L634.4 766.2L638.3 762.1L685.0 762.8M679.8 549.7L675.9 574.4L673.3 590.0L669.4 616.0L661.6 629.0L660.3 639.4L668.1 651.1L669.4 657.6M742.5 849.3L739.7 868.1L746.7 884.7L756.4 908.3M552.2 849.3L550.8 872.2L557.1 883.3L530.0 899.3L538.3 915.3M479.3 897.2L507.8 913.9M399.5 1014.1L406.0 1024.0L414.9 1033.9L418.8 1037.9L414.9 1042.9L406.0 1044.8L399.5 1048.8M683.4 658.2L801.0 662.1L806.2 656.3L812.7 653.7L815.3 647.2L819.2 643.9L825.7 643.9L830.9 638.1L837.4 634.8L843.9 633.5L852.9 636.8M683.4 762.4L791.9 763.7L793.2 781.3L797.1 782.6L797.1 793.0L794.5 798.2M745.1 763.7L745.1 806.0L745.1 851.5L741.2 858.0L739.9 867.1M739.9 869.7L745.1 884.0L754.8 908.0M367.9 955.7L366.6 975.2L377.0 980.4L380.9 990.8L383.5 999.9L391.3 1003.8L396.5 1012.9L406.9 1024.6L418.6 1036.3L413.4 1042.8L401.7 1048.0L391.3 1057.1L380.9 1062.3L373.1 1068.8L375.7 1075.3L365.3 1079.2L352.3 1081.8L339.3 1088.3M164.7 1100.5L300.4 1100.5L305.6 1092.2L316.0 1085.7L326.3 1084.4L336.7 1087.0M300.4 1100.5L305.6 1190.9L309.5 1281.9L377.0 1283.2M296.7 1349.7L317.3 1349.0L316.1 1346.4L361.2 1343.2M165.8 1550.1L274.6 1550.1" fill="none" stroke="#000" stroke-width="4.0" stroke-linejoin="round"/>
<path d="M453.5 218.1L446.9 256.3L460.6 270.5M461.1 226.3L476.4 231.2L493.8 237.2" fill="none" stroke="#000" stroke-width="2.7" stroke-linejoin="round"/>
<path d="M164.7 183.5L171.7 181.4L173.0 171.0L176.9 165.3L186.0 167.9L188.6 173.6L190.7 186.6L196.4 194.4L199.0 203.5L204.2 213.9L212.0 219.1L226.3 224.3L236.7 232.1L244.5 232.1L249.7 225.6L261.4 223.8L274.4 228.2L282.2 236.0L291.3 245.1L301.7 244.3L308.2 236.0L316.0 232.1L331.5 227.7L344.5 222.5L356.2 216.5L367.9 214.7L380.9 212.6L388.7 207.4L401.7 206.6L419.9 205.3L426.4 203.5L435.5 210.0L443.3 213.1L453.7 215.2M445.8 212.7L452.4 214.8L458.9 218.1L463.3 224.7L469.8 223.6L476.4 223.0L480.8 225.8L482.9 229.6L491.7 231.2L498.2 231.2M164.7 520.6L183.4 520.6L187.3 516.7L222.4 454.3L228.9 446.5L240.6 434.8L256.2 428.3L257.5 420.5L266.6 410.1L290.0 401.0L295.2 390.6L310.8 372.4L331.5 352.9L357.5 328.2L373.1 318.6L388.7 311.3L400.4 305.6L419.9 307.5M570.7 503.7L565.5 516.7L564.2 527.1L566.8 529.7L573.3 520.6L578.5 521.9L582.4 532.3L583.7 553.1M679.8 553.1L681.9 537.5L684.0 524.5L689.2 508.9L699.6 493.3L703.5 477.7L710.0 464.7L711.3 456.9L716.5 438.7L717.8 420.5L723.0 411.4L737.3 409.6L746.4 401.0L759.4 390.6L767.2 380.2L766.7 375.0L771.9 373.7L769.8 365.9L766.7 355.5L762.5 346.4L767.2 337.3L773.7 326.9L777.6 319.1L773.7 311.3L776.3 304.1L778.9 293.2L785.4 277.6L784.1 272.4L789.3 269.8L798.4 260.7L806.2 263.3L817.9 269.2L821.8 260.7L825.7 259.4L833.5 252.9L838.7 254.2L842.6 264.6L845.7 270.3L849.0 267.2L850.3 256.8L854.2 242.5L860.7 238.6L865.9 243.8L871.1 246.4L875.0 242.5L871.1 236.0L864.6 228.2L865.9 220.4L871.1 212.6L881.5 200.9L891.9 194.4L899.7 193.1L901.0 187.9L898.4 184.0L902.3 177.5L912.7 168.4L916.6 160.6L916.6 155.4L910.1 148.9M1193.4 148.9L1192.1 160.6L1194.7 171.0L1189.5 178.8L1189.5 189.2L1194.7 197.0L1209.0 206.6M1207.4 207.4L1219.7 210.6L1227.5 210.0L1232.7 211.9L1234.6 216.5L1233.3 223.0L1227.5 226.9L1224.2 229.5L1226.2 236.0L1230.1 241.2L1232.7 246.4L1230.7 252.9L1227.5 258.1L1226.8 263.3L1230.1 268.5L1234.6 275.0L1239.2 280.2L1244.4 283.4L1248.3 278.9L1251.5 275.0L1254.8 276.3L1257.4 280.2L1259.3 271.1M1260.0 307.5L1267.8 317.8L1275.6 326.9L1280.8 313.9L1286.0 307.5M1257.4 326.9L1266.5 324.3L1275.6 317.8L1283.4 312.6M1581.8 187.9L1584.4 184.0L1584.4 176.2L1587.0 169.7L1592.2 160.6L1596.7 154.7L1602.6 151.5L1609.1 150.2M1574.0 167.1L1577.9 171.0L1576.6 178.8L1579.2 187.9L1584.4 185.3M469.4 982.3L473.4 976.4L475.4 969.4L481.3 964.5L486.3 956.5L488.3 963.5L492.3 964.5M696.7 911.1L702.2 905.6L707.8 902.8L713.3 905.6M707.8 897.9L710.6 898.6L711.2 901.4M837.4 550.4L837.4 557.5L842.6 564.0L847.8 570.5L854.2 577.0L855.5 583.5L854.2 590.0L858.1 596.5L863.3 603.0M950.4 818.7L947.0 829.1L943.9 835.6M794.5 812.5L795.8 826.8L794.5 839.8M788.0 816.4L791.9 821.6L790.6 832.0L793.2 842.4M798.4 803.4L801.0 815.1L799.7 826.8L801.0 838.5M807.5 812.5L808.8 824.2L811.4 837.2L812.7 845.0M791.9 796.9L794.5 806.0L798.4 809.9M803.6 811.2L804.9 826.8L808.8 839.8M812.7 815.1L814.0 832.0L815.3 845.0M821.8 796.9L814.0 813.8M868.5 838.5L858.1 843.7L849.0 848.9L839.3 854.1M872.4 756.6L877.6 761.8L875.0 765.0M164.7 1214.3L175.6 1221.6L164.7 1229.9M305.7 1436.7L314.8 1423.8M314.8 1416.1L321.2 1407.0M272.2 1342.6L274.8 1351.6L273.5 1359.3M421.2 1185.7L429.0 1172.7L436.8 1161.0L447.2 1150.6L458.9 1140.2L468.0 1130.6L475.0 1116.1L482.3 1098.7L487.0 1081.8L490.6 1063.6M425.1 1164.9L432.9 1162.3L440.7 1154.5M453.7 1138.9L461.5 1136.3L466.7 1125.9M483.6 1079.2L488.8 1071.4L490.1 1055.8M365.3 1253.3L373.1 1255.9L378.3 1250.7L375.7 1263.7L367.9 1267.6M367.9 1287.1L375.7 1289.7L380.9 1285.8" fill="none" stroke="#000" stroke-width="4.3" stroke-linejoin="round" stroke-linecap="round"/>
<path d="M164.7 514.1L186.0 508.9L212.0 511.5L227.6 516.7L228.9 520.6L219.8 529.7L204.2 542.7L186.0 551.8M913.8 560.0L915.4 551.6L921.7 542.1L928.1 535.7L932.9 537.3L937.6 532.5L942.4 526.2L950.3 521.4L958.3 518.3L966.2 516.7L972.5 511.9L978.9 505.6L985.2 502.4L988.4 507.1L993.2 500.8L999.5 497.6L1001.1 491.3L1007.5 488.1L1015.4 486.5L1023.3 486.5L1029.7 481.7L1032.9 480.2L1032.9 489.7L1037.6 493.7L1045.6 492.9L1048.7 484.9L1053.5 481.7L1061.4 484.9L1066.2 492.9L1069.4 497.6L1074.1 496.0L1074.9 489.7L1072.5 481.7L1066.2 475.4L1061.4 475.4L1060.6 461.1L1058.3 445.2L1055.1 432.5L1058.3 424.6L1063.0 432.5L1059.8 448.4L1063.0 465.9L1071.0 470.6L1080.5 467.5L1088.4 461.1L1096.3 461.1L1102.7 459.5L1112.2 454.8L1121.7 451.6L1131.3 446.8L1137.6 442.1L1147.1 443.7L1150.3 435.7L1151.9 426.2L1150.3 418.3L1156.7 410.3L1166.2 413.5L1174.1 411.9L1182.1 413.5L1191.6 405.6L1201.1 402.4L1210.0 397.6M1389.3 150.8L1387.3 158.0L1382.1 164.5L1375.6 169.7L1371.8 168.4L1370.5 163.2L1373.7 161.2M1392.5 151.5L1391.2 159.3L1386.0 165.8L1379.5 170.3L1375.6 172.9M1275.6 349.0L1286.0 336.0L1292.5 326.9L1293.8 312.6L1299.0 307.5L1306.8 304.9L1315.9 299.7L1321.1 298.4L1325.0 302.9L1330.2 304.2L1338.0 301.0L1348.4 296.4L1361.4 291.9L1370.5 286.7L1383.4 282.8L1393.8 277.6L1402.9 275.6L1410.7 272.4L1421.1 269.8L1431.5 267.2L1440.6 265.9L1448.4 264.6L1452.3 267.2L1457.5 264.6L1461.4 256.8L1465.3 250.3L1470.0 249.0M1299.0 308.8L1302.9 310.0L1304.2 315.2L1300.3 313.9L1299.0 308.8M1309.4 315.2L1312.0 310.0L1317.2 308.1L1318.5 310.7L1313.3 316.5L1309.4 315.2M1430.2 278.9L1436.7 273.7L1441.9 272.4M1470.0 267.2L1462.7 267.2L1460.1 271.1L1464.0 274.3L1470.0 275.0M1470.0 250.3L1477.8 250.3L1483.0 254.2L1484.3 262.0L1480.4 269.8L1473.9 272.4L1470.0 271.7M1484.3 255.5L1489.5 254.8L1494.7 259.4L1496.0 252.9L1497.9 258.1L1493.4 265.9L1486.9 265.2L1484.3 255.5M1499.2 262.0L1502.5 258.1L1509.0 259.4L1512.9 265.9L1522.0 262.0L1531.1 258.1L1540.2 259.4L1548.0 252.9L1554.5 250.3L1554.5 256.8L1548.0 263.3L1542.8 264.6L1540.2 260.7L1532.4 264.6L1524.6 268.5L1515.5 269.8L1512.9 275.0L1503.8 273.7L1499.9 269.8L1499.2 262.0M1470.0 312.6L1483.0 301.0L1493.4 291.9L1503.8 286.7L1512.9 276.3M1558.4 249.0L1581.8 252.9L1583.1 256.8L1559.7 252.2L1558.4 249.0M1518.1 223.0L1520.0 223.6L1523.3 221.7L1525.2 221.9L1528.5 219.7L1529.8 220.0M1659.7 249.0L1664.9 247.7L1672.7 251.6L1667.5 254.8L1662.3 252.9L1659.7 249.0M1618.2 247.7L1623.4 249.0L1624.7 251.6M1208.2 397.0L1213.6 400.5L1220.7 391.6L1227.9 383.6L1238.6 376.4L1243.0 378.2L1242.1 383.6L1243.9 377.3L1249.3 372.0L1258.2 365.7L1267.1 358.6L1276.1 347.9M1265.2 379.2L1273.0 377.9L1274.3 385.7L1270.4 384.4L1265.2 379.2M1289.8 372.1L1290.8 364.6L1294.7 352.2L1298.7 342.3L1304.6 336.9L1308.6 338.8L1312.6 344.8L1316.5 354.7L1319.5 362.2L1322.0 367.6L1326.0 372.6L1326.5 374.6L1324.0 376.1L1319.5 376.5L1317.5 379.5L1314.6 382.0L1311.6 380.5L1308.6 384.5L1306.1 389.4L1299.7 388.9L1289.8 390.9L1285.8 392.9L1281.8 391.4L1279.8 387.0L1280.8 382.0L1279.8 377.0L1283.3 374.6L1286.8 372.1L1289.8 372.1M1265.5 379.5L1269.9 379.0L1273.9 379.5L1274.4 384.5L1271.4 386.0L1270.4 382.0L1265.5 379.5M1330.2 427.3L1338.0 422.1L1348.4 413.0L1351.0 418.2L1343.2 439.0L1354.9 424.7L1365.3 418.2M1357.5 431.2L1357.5 446.8L1353.6 462.4L1356.2 475.4L1362.7 481.9L1361.4 491.0L1364.0 504.0L1367.9 520.8L1373.0 533.8L1374.3 552.0M1335.4 491.0L1338.0 481.9L1343.2 478.0L1343.8 483.2L1339.3 491.0L1335.4 491.0M1500.0 297.6L1482.1 307.1L1462.2 322.2L1447.1 329.4L1429.7 341.3L1417.8 350.0L1403.5 360.3L1394.0 366.7L1386.0 374.6L1376.5 383.3L1368.6 393.7L1362.2 401.6L1358.3 409.5L1353.5 420.6M1470.0 542.9L1475.2 535.1L1483.0 528.6L1490.8 527.3L1501.2 522.1L1506.4 515.6L1512.9 513.0L1515.5 506.6L1523.3 501.4L1532.4 497.5L1538.9 488.4L1542.8 480.6L1545.4 472.8L1548.0 465.0L1553.2 465.0L1559.7 455.9L1567.5 449.4L1577.9 444.2L1581.8 439.0L1588.3 437.7L1590.9 428.6L1593.5 419.5L1601.3 415.6L1607.8 407.8L1614.3 403.9L1619.5 394.8L1620.8 387.0L1616.9 379.2L1613.0 371.4L1618.2 371.4L1619.5 380.5L1623.4 393.5L1632.5 389.6L1638.9 393.5L1649.3 398.7L1657.1 402.6L1668.8 403.9L1670.8 410.4L1669.5 402.6L1668.8 387.0L1677.9 384.4L1690.9 377.9L1701.3 374.0L1709.1 371.4L1713.0 375.3L1728.0 374.0M164.7 556.7L175.6 553.6L184.7 549.7M507.0 758.9L509.6 760.2L509.6 764.1L507.0 763.6L507.0 758.9M523.1 1012.5L524.4 1020.8L531.4 1031.9L546.7 1041.7L563.3 1050.0L577.2 1055.6L588.3 1055.6L595.3 1058.3L598.1 1054.2L605.0 1051.4L607.8 1047.2L606.4 1043.1L610.6 1042.4L600.8 1038.2L610.6 1031.9L618.9 1025.0L623.1 1013.9L631.4 1006.9L639.7 1001.4L648.1 994.4L659.2 999.3L667.5 997.2L674.4 986.1L682.8 977.8L685.6 970.8L692.5 959.7L702.2 956.9L707.8 959.7L716.1 954.2L723.1 955.6L730.0 950.0L736.9 950.0L743.9 944.4L746.7 933.3L750.8 923.6L755.0 916.7L760.0 922.2M521.7 1013.9L525.8 1029.2L538.3 1044.4L552.2 1055.6L563.3 1068.1M693.9 883.3L705.0 879.2L716.1 877.8L718.9 887.5L709.2 886.1L698.1 888.9L693.9 883.3M680.0 884.0L689.7 884.7M727.2 881.2L734.2 882.6M912.7 550.4L915.3 558.8L912.7 564.0L906.2 561.4L903.6 567.9L899.7 577.0L897.1 582.2L893.2 582.2L895.2 588.7L897.1 595.2L890.6 601.7L884.1 606.9L881.5 616.0L878.9 623.8L871.1 626.4L867.9 634.2L869.8 644.6L873.7 653.7L881.5 660.2L886.1 668.0L884.1 675.8L876.3 682.3L868.5 688.8L864.6 694.0L864.6 704.4L868.5 713.5L877.6 723.8L886.7 732.9L888.0 740.7L891.9 748.5L893.2 755.0M893.2 668.0L898.4 664.1L904.9 661.5L903.6 665.4L897.1 669.9L893.2 668.0M893.2 703.1L902.3 703.1L912.7 707.0L921.8 718.6L927.0 729.0L932.2 739.4L928.3 744.6L920.5 745.9L914.0 747.2L910.1 745.9L907.5 738.1L911.4 732.9L912.7 723.8L908.8 716.0L902.3 710.9L895.8 707.0L893.2 703.1M923.1 755.0L933.5 749.8L942.6 755.0M694.4 884.0L703.5 880.1L713.9 877.5L726.9 878.8L733.4 879.4L730.8 882.7L721.7 884.0L719.1 889.2L713.9 886.6L707.4 885.3L698.3 889.2L694.4 884.0M700.9 958.0L716.5 952.8L726.9 954.1L736.0 950.2L743.8 941.1L747.7 929.4L752.9 919.0L756.8 916.5L760.7 922.9L767.2 920.3L772.4 913.9L778.9 910.0L784.1 911.3L786.7 917.8L793.2 920.3L799.7 919.0L798.4 913.9L803.6 911.3L808.8 910.0L820.5 912.6L833.5 913.2L846.5 911.9L856.8 907.4L864.6 908.7L867.2 906.1L871.1 909.3L878.9 911.9L889.3 912.6L890.6 920.3L897.1 926.8L904.9 934.6L912.7 942.4L910.1 946.3L916.6 952.8L919.2 958.0M791.9 907.4L795.8 897.0L803.6 889.2L812.0 884.0L808.8 889.2L803.6 897.0L802.3 903.5L798.4 902.2L797.1 910.0L794.5 916.5M945.4 756.6L953.8 767.0L959.0 777.4L960.3 789.1L965.5 802.1L975.9 816.4L988.9 828.1L1001.9 837.2L1011.0 845.0L1016.2 855.4L1016.8 865.8L1013.6 873.6L1012.3 878.8L1014.9 887.9L1017.5 897.0L1021.4 903.5L1022.7 910.0L1021.4 917.8L1026.6 919.0L1027.9 924.2L1025.3 935.9L1022.7 945.0L1020.1 951.5L1016.2 958.0M959.0 958.0L978.5 956.1L1004.5 955.2M1208.5 770.9L1198.1 776.1L1190.3 781.3L1183.8 787.8L1177.3 793.0L1166.9 795.6L1159.1 799.5L1153.9 804.7L1146.1 807.3L1138.3 808.6L1134.4 815.1L1133.1 824.2L1127.9 816.4L1124.0 816.4L1122.7 821.6L1125.3 829.4L1130.5 834.6L1137.0 837.2L1142.2 841.1L1140.9 848.9L1138.3 855.4L1140.9 859.3L1144.8 863.2L1147.4 868.4L1140.9 870.3L1137.0 873.6L1137.0 878.8L1139.6 884.0L1138.3 889.2L1133.1 884.0L1130.5 884.0L1129.2 891.8L1131.8 899.6L1126.6 894.4L1122.7 891.8L1120.8 895.7L1124.0 903.5L1126.6 910.0L1130.5 915.2L1137.0 915.2L1140.9 911.3L1148.7 917.8L1156.5 924.2L1161.7 927.5L1163.0 921.6L1160.4 915.2L1166.9 910.0L1168.2 900.9L1166.9 894.4L1169.5 891.8L1174.7 902.2L1181.2 912.6L1182.5 907.4L1179.9 897.0L1178.6 889.2L1172.1 881.4L1166.9 876.2L1172.1 878.8L1178.6 886.6L1185.1 894.4L1191.6 899.6L1199.4 902.2L1204.0 899.6L1202.0 891.8L1204.6 886.6L1208.5 885.3M1113.6 900.9L1118.8 907.4L1125.3 921.6L1127.9 929.4L1124.0 933.3L1120.1 925.5L1116.2 916.5L1112.3 906.1L1113.6 900.9M1102.0 921.6L1105.9 917.8L1108.5 921.6L1105.9 925.5L1102.0 921.6M1109.8 926.8L1114.9 934.6L1120.1 937.2L1121.4 933.3L1116.2 928.1L1113.6 921.6L1109.8 926.8M1130.5 934.0L1133.1 931.4L1135.7 934.0L1133.1 936.6L1130.5 934.0M1374.3 549.7L1379.5 561.4L1384.7 573.1L1400.3 579.6L1415.9 578.3L1434.1 575.7L1447.1 577.0L1449.7 569.2L1457.5 558.8L1465.3 549.7M1366.6 644.1L1368.4 642.0L1370.5 644.1L1368.4 646.1L1366.6 644.1M1206.7 770.6L1215.8 766.7L1223.6 761.5L1231.4 760.2L1239.2 766.7L1241.8 774.5L1248.3 784.9L1239.2 790.1L1231.4 777.1L1223.6 774.5L1226.2 782.3L1234.0 795.3L1244.4 810.9L1254.8 818.7L1261.3 823.9L1258.7 827.8L1249.6 821.3L1241.8 813.5L1247.0 826.5L1253.5 844.7L1256.1 852.5L1247.0 856.4L1248.3 868.1L1241.8 875.9L1234.0 881.1L1223.6 888.9L1215.8 888.9L1206.7 886.3M1215.8 795.3L1223.6 803.1L1231.4 818.7L1239.2 834.3L1244.4 844.7L1239.2 847.3L1231.4 831.7L1223.6 816.1L1217.1 803.1L1215.8 795.3M1206.7 808.3L1213.2 818.7L1214.5 829.1L1210.6 826.5L1206.7 816.1M1248.3 766.7L1252.2 757.6L1256.1 756.3L1253.5 762.8L1252.2 769.3L1248.3 766.7M1256.1 788.8L1261.3 797.9M1226.2 834.3L1230.1 843.4M682.7 977.8L689.2 964.8L699.6 959.6L710.0 955.7M917.9 959.6L933.5 964.8L954.3 960.9L982.9 955.7M1003.7 955.7L1011.5 962.2L1016.7 968.7L1021.9 967.4L1019.3 959.6M557.7 1063.6L573.3 1079.2L588.9 1087.0L599.3 1097.4L604.5 1110.4L601.9 1123.3L596.7 1136.3L581.1 1142.8L568.1 1149.3L561.6 1157.1L549.9 1151.9L547.3 1158.4L555.1 1162.3L542.1 1167.5L538.2 1172.7L549.9 1171.4L565.5 1164.9L568.1 1157.1M565.5 1167.5L555.1 1177.9L544.7 1190.9L539.5 1201.3L534.3 1214.3L523.9 1227.3L518.7 1236.4L513.5 1237.7L521.3 1242.9L513.5 1252.0L505.7 1250.7L497.9 1232.5L490.1 1236.4L482.3 1245.5L475.8 1261.1L470.6 1279.3L465.4 1297.5L462.8 1313.1L458.9 1323.5L462.8 1327.4L471.9 1320.9L474.5 1314.4L475.8 1326.1L464.1 1333.9L451.1 1339.1L443.3 1349.5L435.5 1365.1M525.2 1196.1L534.3 1193.5M526.5 1216.9L534.3 1214.3M543.4 1215.6L547.3 1216.9M456.3 1284.5L458.9 1280.6M444.6 1335.2L447.2 1331.3M465.0 1300.0L462.4 1310.4L459.8 1322.1L462.4 1327.3L475.4 1326.0L472.8 1314.3L462.4 1310.4M475.4 1326.0L465.0 1332.5L452.0 1341.6L439.0 1354.6L426.0 1375.4L415.6 1393.6L411.7 1414.4L405.2 1430.0L406.5 1443.0L398.7 1456.0M444.2 1333.3L445.7 1331.2L447.3 1333.3L445.7 1335.3L444.2 1333.3M420.0 1380.0L415.4 1390.3L414.1 1403.2L411.5 1413.5L406.3 1423.8L407.6 1434.1L408.9 1441.9L402.5 1452.2L397.3 1461.2L394.7 1467.7L397.3 1475.4L394.7 1483.1L396.0 1490.9L399.9 1498.6L401.2 1502.5M400.9 1499.3L405.2 1514.5L402.3 1533.4L406.7 1547.9L405.2 1560.9L399.4 1572.6L396.5 1592.9L392.2 1610.3L387.8 1630.6L384.2 1650.9L386.4 1664.0L389.3 1681.4L392.2 1690.1L400.9 1691.5L398.0 1703.1L392.2 1714.7L383.5 1729.3L371.8 1740.9L355.9 1749.6L334.1 1756.8L325.4 1761.2L321.1 1766.3" fill="none" stroke="#808080" stroke-width="3.4" stroke-linejoin="round"/>
<path d="M1210.0 448.4L1201.1 461.1L1191.6 473.8L1183.7 481.7L1175.7 496.0L1167.8 508.7L1159.8 516.7L1150.3 521.4L1151.9 532.5L1153.5 548.4L1147.1 556.3L1144.0 561.1M1124.9 561.1L1128.1 548.4L1132.9 537.3L1129.7 529.4L1126.5 521.4L1131.3 515.1L1129.7 510.3L1123.3 511.9L1120.2 507.1L1123.3 503.2L1131.3 502.4L1137.6 499.2L1144.0 492.9L1150.3 486.5L1153.5 489.7L1154.3 492.9L1150.3 499.2L1145.6 508.7L1144.0 518.3L1142.4 529.4L1140.8 540.5L1137.6 550.0L1134.4 561.1M1144.9 480.2L1146.3 478.7L1147.8 480.2L1146.3 481.6L1144.9 480.2M1336.7 357.7L1345.8 357.7L1346.4 367.5L1349.0 370.1L1349.7 381.8L1346.4 385.7L1347.7 394.8L1350.3 398.7L1349.0 405.2L1343.2 410.4L1336.7 416.9L1327.6 422.1L1319.8 426.0L1316.5 423.4L1318.5 413.0L1312.0 411.7L1306.8 415.6L1310.7 423.4L1311.3 431.2L1304.2 433.1L1296.4 431.2L1295.7 426.0L1299.0 420.8L1300.3 413.0L1306.8 409.1L1312.0 405.2L1318.5 402.6L1325.0 396.1L1328.9 388.3L1336.7 385.7L1340.6 380.5L1338.0 377.2L1334.1 379.2L1332.1 371.4L1332.8 361.0L1336.7 357.7M1333.4 396.1L1333.4 405.2M1299.0 424.7L1304.2 422.1L1306.8 426.0L1304.2 431.2L1300.3 429.9L1299.0 424.7M1207.4 450.7L1215.8 433.8L1224.9 429.9L1237.2 416.2L1243.1 420.8L1253.5 416.9L1252.2 428.6L1245.7 437.7L1237.9 442.9L1234.0 450.7L1233.3 462.4L1230.1 466.3L1235.9 469.5L1241.8 463.7L1252.2 450.7L1256.7 448.7L1258.7 455.9L1250.9 462.4L1252.8 468.9L1252.2 483.2L1249.6 493.6L1247.0 501.4L1248.3 510.5L1252.8 515.6L1248.3 526.0L1249.6 531.2L1256.1 527.3L1263.9 520.2L1274.3 520.8L1280.8 522.1L1284.7 527.3L1283.4 533.8L1287.3 539.0L1292.5 535.8L1295.1 541.6L1291.2 552.0M1577.9 552.0L1579.2 532.5L1583.1 522.1L1588.3 516.9L1589.6 510.5L1587.0 505.3L1593.5 502.7L1600.0 494.9L1607.8 489.7L1616.9 484.5L1623.4 483.2L1631.2 479.3L1644.1 475.4L1651.9 467.6L1662.3 461.1L1671.4 457.2L1679.2 453.3L1685.7 448.1L1694.8 448.1L1693.5 455.9L1688.3 459.8L1689.6 465.0L1683.1 478.0L1677.9 487.1L1674.0 485.8L1675.3 494.9L1672.7 504.0L1670.1 516.9L1670.1 529.9L1664.9 537.7L1659.7 552.0M1590.9 552.0L1594.8 540.3L1605.2 529.9L1614.3 523.4L1623.4 528.6L1627.3 536.4L1632.5 542.9L1635.0 552.0M1728.0 426.0L1723.4 441.6L1716.9 452.0L1710.4 461.1L1710.4 466.3L1716.9 470.2L1720.8 478.0L1722.1 485.8L1716.9 494.9L1707.8 505.3L1701.3 513.0L1690.9 523.4L1683.1 532.5L1677.9 539.0L1680.5 546.8L1684.4 552.0M1707.8 552.0L1716.9 541.6L1728.0 533.8M1642.2 460.4L1644.1 457.2L1648.0 456.9L1650.0 459.8L1648.7 463.0L1644.8 463.7L1642.2 460.4M972.0 755.0L973.3 745.9L970.7 740.7L962.9 738.1L959.0 731.6L953.8 725.1L946.6 723.8L947.0 718.6L946.6 713.5L949.9 710.9L953.8 703.1L958.3 695.3L959.0 686.2L957.7 675.8L952.5 668.0L946.6 661.5L947.0 649.8L946.6 636.8L949.9 631.6L950.5 623.8L948.6 616.0L949.2 608.2L953.8 604.3L960.3 604.3L965.5 608.2L969.4 614.7L970.7 619.9L975.9 626.4L978.5 632.9L983.7 639.4L990.2 645.9L994.1 646.5L1000.6 652.4L1008.4 655.0L1017.5 655.6L1022.7 660.2L1026.6 665.4L1034.4 669.3L1042.2 673.2L1047.4 675.8L1050.0 686.2L1053.9 687.5L1056.5 681.0L1056.5 673.2L1059.1 671.9L1063.0 675.8L1069.5 681.0L1074.7 682.9L1079.9 681.0L1085.1 675.8L1089.0 670.6L1095.5 665.4L1099.4 660.2L1105.9 658.2L1114.9 658.9L1121.4 658.9L1125.3 660.2L1120.1 653.7L1114.9 651.1L1116.2 644.6L1118.8 636.8L1127.9 634.2L1135.7 631.6L1143.5 630.3L1146.1 636.8L1144.8 644.6L1140.9 652.4L1134.4 655.0L1138.3 658.9L1140.9 662.8L1148.7 658.9L1153.9 658.9L1160.4 661.5L1166.9 665.4L1173.4 668.0L1179.9 665.4L1186.4 668.0L1192.9 666.7L1199.4 670.6L1208.5 666.7M1047.4 675.8L1046.1 669.3L1055.2 669.3L1056.5 673.2M1099.4 660.2L1092.9 662.1L1087.7 660.2L1082.5 653.7L1078.6 644.6L1077.3 635.5L1078.6 627.7L1081.2 623.8L1078.6 616.0L1074.7 608.2L1070.8 600.4L1068.2 595.2L1070.1 592.6L1074.7 597.8L1081.2 601.7L1087.7 604.3L1092.9 603.0L1094.2 599.1L1099.4 597.8L1102.0 601.7L1105.9 608.2L1108.5 603.0L1109.8 595.2L1108.5 583.5L1105.9 573.1L1105.9 567.9L1109.8 565.3L1113.6 569.2L1114.9 577.0L1120.1 583.5L1125.3 591.3L1127.9 588.7L1130.5 580.9L1137.0 575.7L1140.9 567.9L1144.8 558.8L1150.0 553.6L1155.2 550.4M1092.9 623.8L1096.8 621.2L1100.0 629.0L1101.3 636.8L1103.3 644.6L1098.1 649.8L1098.7 657.6M1102.0 603.0L1105.9 613.4L1111.0 629.0M1011.0 595.2L1016.2 590.0L1021.4 585.4L1029.2 584.8L1037.0 582.8L1043.5 584.8L1045.4 590.0L1042.2 595.2L1037.0 599.1L1030.5 599.1L1026.6 605.6L1024.0 612.1L1018.8 617.3L1014.9 623.1L1011.0 619.9L1010.3 612.1L1014.9 606.9L1016.2 601.7L1012.3 599.1L1011.0 595.2M1035.7 604.9L1037.0 612.1L1035.7 623.8L1031.8 627.7L1029.2 621.2L1030.5 612.1L1035.7 604.9M1048.7 623.8L1052.6 622.2L1054.5 629.0L1055.8 639.4L1052.6 643.0L1049.3 638.1L1048.0 630.3L1048.7 623.8M1114.9 562.7L1118.8 558.1L1125.3 556.8L1127.3 560.7L1124.0 565.3L1120.1 567.9L1116.2 566.6L1114.9 562.7M1151.3 592.6L1157.8 590.6L1164.3 593.9L1174.7 595.2L1179.9 601.7L1181.9 605.6L1174.7 606.9L1166.9 608.2L1159.1 612.1L1155.2 608.2L1153.9 600.4L1151.3 592.6M1114.9 621.2L1121.4 618.6L1127.9 613.4L1133.1 608.2L1137.0 606.9L1139.6 613.4L1144.8 618.6L1148.7 614.7L1152.6 618.6L1159.1 614.7L1166.9 610.8L1174.7 610.8L1179.9 618.6L1186.4 617.3L1192.9 612.1L1200.7 610.8L1208.5 600.4M1152.6 626.4L1159.1 627.7L1164.3 634.2L1169.5 636.8L1174.7 635.5L1179.9 640.7L1182.5 631.6L1187.7 626.4L1192.9 623.8L1199.4 619.9L1208.5 618.6M1152.6 644.6L1153.9 639.4L1159.1 642.0L1163.0 640.7L1159.1 644.6L1159.1 652.4L1164.3 657.6L1169.5 662.8L1173.4 668.0M1085.7 692.7L1089.0 687.5L1094.2 686.8L1098.7 692.7L1095.5 696.6L1089.0 697.2L1085.7 692.7M1127.9 681.0L1134.4 671.9L1143.5 675.8L1140.9 677.7L1133.1 677.1L1130.5 682.3L1127.9 681.0M1148.7 674.5L1153.9 677.1L1160.4 673.2L1168.2 674.5L1168.2 678.4L1164.3 681.0L1163.0 688.8L1164.3 695.3L1172.1 700.5L1179.9 705.7L1187.7 709.6L1191.6 712.8L1186.4 716.0L1178.6 717.3L1172.1 722.5L1165.6 726.4L1159.1 729.0L1152.6 732.9L1148.7 738.1L1146.1 743.3L1148.7 742.0L1155.2 735.5L1161.7 730.3L1166.9 723.8L1165.6 713.5L1166.9 708.3L1160.4 707.0L1152.6 709.6L1148.7 705.7L1144.8 697.9L1140.9 691.4L1143.5 687.5L1148.7 686.2L1151.3 681.0L1148.7 674.5M1098.1 713.5L1103.3 709.6L1105.9 703.1L1109.8 703.1L1111.0 710.9L1113.6 718.6L1118.8 726.4L1121.4 735.5L1124.0 744.6L1127.9 755.0M1098.1 713.5L1099.4 721.2L1103.3 729.0L1099.4 735.5L1102.0 743.3L1103.3 755.0M1040.9 755.0L1042.2 743.3L1043.5 732.9L1048.7 729.0L1057.8 730.3L1068.2 729.0L1070.8 735.5L1078.6 739.4L1086.4 743.3L1092.9 747.2L1099.4 755.0M1196.8 593.9L1200.7 590.6L1204.6 593.9L1202.7 597.8L1198.1 597.1L1196.8 593.9M1201.4 656.3L1204.6 653.0L1208.5 653.7L1208.5 659.5L1204.0 660.2L1201.4 656.3M1156.5 550.4L1150.0 556.2L1146.1 564.0L1140.9 574.4L1133.1 580.9L1127.9 590.0M960.0 575.0L962.2 572.8L964.3 575.0L962.2 577.1L960.0 575.0M979.7 565.9L981.1 564.5L982.4 565.9L981.1 567.2L979.7 565.9M993.3 572.4L994.1 571.7L994.9 572.4L994.1 573.2L993.3 572.4M1062.8 667.7L1064.3 666.3L1065.6 667.7L1064.3 669.0L1062.8 667.7M1085.1 717.1L1086.4 715.8L1087.5 717.1L1086.4 718.3L1085.1 717.1M1010.5 741.0L1012.3 739.2L1014.0 741.0L1012.3 742.7L1010.5 741.0M1059.2 688.1L1060.4 686.9L1061.4 688.1L1060.4 689.1L1059.2 688.1M1088.6 593.2L1090.0 591.8L1091.3 593.2L1090.0 594.5L1088.6 593.2M1090.1 614.7L1091.6 613.3L1092.9 614.7L1091.6 616.0L1090.1 614.7M1089.1 623.1L1090.3 622.0L1091.3 623.1L1090.3 624.2L1089.1 623.1M1148.1 667.3L1149.4 666.0L1150.6 667.3L1149.4 668.5L1148.1 667.3M955.9 705.0L957.7 703.2L959.4 705.0L957.7 706.7L955.9 705.0M1124.7 552.3L1126.0 551.0L1127.2 552.3L1126.0 553.5L1124.7 552.3M969.4 753.4L974.6 760.5L982.4 769.6L986.3 780.0L986.3 789.1L991.5 790.4L998.0 789.7L1003.2 791.7L1011.0 793.0L1018.8 793.0L1024.6 796.9L1022.7 806.0L1020.7 813.8L1025.3 816.4L1033.1 819.0L1035.7 813.8L1037.0 806.0L1040.9 799.5L1044.8 791.7L1048.7 785.2L1053.9 780.0L1059.1 777.4L1058.4 772.2L1053.9 768.3L1048.7 760.5L1042.2 753.4M1130.5 753.4L1133.1 757.9L1130.5 765.7L1131.8 772.2L1125.3 774.1L1118.8 777.4L1113.6 786.5L1108.5 791.7L1107.2 798.2L1109.8 802.1L1114.9 800.8L1120.1 807.3L1124.0 803.4L1130.5 799.5L1140.9 791.7L1151.3 785.2L1159.1 781.3L1166.9 773.5L1174.7 768.3L1181.2 765.7L1183.8 761.8L1192.9 759.2L1200.7 753.4L1209.2 744.9M1110.0 761.1L1111.3 759.8L1112.6 761.1L1111.3 762.4L1110.0 761.1M1286.0 549.7L1283.4 561.4L1279.5 569.2L1278.2 577.0L1276.9 590.0L1270.4 591.3L1260.0 593.9L1256.1 595.2L1247.0 590.0L1240.5 583.5L1234.0 584.8L1228.8 590.0L1232.7 595.2L1239.2 601.7L1247.0 605.6L1256.1 599.1L1260.0 596.5L1267.8 599.1L1273.0 601.7L1278.2 605.6L1276.1 612.1L1279.5 614.7L1286.0 618.6L1291.2 631.6L1296.4 636.8L1302.9 631.6L1304.2 622.5L1308.1 618.6L1312.0 612.1L1315.9 617.3L1322.4 623.8L1328.9 630.3L1322.4 636.8L1312.0 647.2L1299.0 653.7L1291.2 655.0L1288.6 648.5L1283.4 647.2L1278.2 652.4L1283.4 658.9L1293.8 662.8L1304.2 668.0L1314.6 675.8L1325.0 678.4L1348.4 678.4L1364.0 681.0L1379.5 683.6L1389.9 692.7L1402.9 704.4L1415.9 717.3L1428.9 732.9L1439.3 745.9L1444.5 748.5L1452.3 744.6L1462.7 735.5L1475.7 723.8L1483.5 723.8L1493.9 717.3L1514.7 707.0L1527.7 697.9L1553.7 684.9L1566.7 674.5L1584.9 662.8L1600.5 651.1L1616.1 648.5L1634.3 642.0L1639.5 640.7L1649.9 640.7L1665.5 638.1L1675.9 642.0L1688.9 642.0L1701.8 640.7L1714.8 642.0L1726.5 643.3M1206.7 744.6L1223.6 745.9L1228.8 744.6L1249.6 738.1L1273.0 736.8L1299.0 739.4L1338.0 741.3L1369.2 743.3L1389.9 749.8L1405.5 761.5L1415.9 774.5L1421.1 787.5L1422.4 795.3L1419.8 804.4L1413.3 812.2L1408.1 804.4L1401.6 801.8L1399.0 807.0L1402.9 816.1L1404.2 823.9L1400.3 826.5L1400.3 834.3L1397.7 836.9L1396.4 844.7L1389.9 853.8L1379.5 853.8L1369.2 853.8L1361.4 859.0L1360.1 865.5L1364.0 869.4L1362.7 881.1L1356.2 891.5L1349.7 899.3L1344.5 901.9L1343.2 909.7L1336.7 917.5L1327.6 927.9L1317.2 938.3L1306.8 948.7L1296.4 959.1M1357.5 865.5L1364.0 864.2L1370.5 869.4L1365.3 872.0M1286.0 549.7L1293.8 554.9L1299.0 564.0L1296.4 574.4L1288.6 582.2L1283.4 583.5L1282.1 575.7L1286.0 570.5L1280.8 566.6L1282.1 558.8M1223.6 564.0L1227.5 557.5L1234.0 560.1L1232.7 567.9L1226.2 569.7L1223.6 564.0M1217.9 593.9L1221.0 590.0L1224.9 592.6L1222.3 597.8L1218.4 597.8L1217.9 593.9M1206.7 600.4L1211.9 605.6L1210.6 613.4L1206.7 616.0M1206.7 662.8L1215.8 662.2L1219.7 664.8L1214.5 666.9L1206.7 666.4M1208.5 687.5L1211.1 684.9L1213.7 687.5L1211.1 690.1L1208.5 687.5M1577.1 549.7L1579.7 561.4L1586.2 556.2L1590.1 549.7M1636.9 549.7L1642.1 561.4L1647.3 569.2L1648.6 578.3L1652.5 580.9L1655.1 573.1L1665.5 569.2L1666.8 561.4L1662.9 549.7M1683.7 549.7L1686.3 560.1L1696.7 562.7L1704.4 558.8L1707.0 549.7M682.7 1162.3L690.5 1154.5L693.1 1146.7L689.2 1138.9L682.7 1136.3M682.7 1127.2L702.2 1132.4L715.2 1118.2L723.0 1107.8L736.0 1092.2L752.9 1076.6L767.2 1074.0L768.5 1070.1L769.8 1074.0L795.8 1063.6L797.1 1057.1L799.7 1059.7L816.6 1049.3L824.4 1050.6L832.2 1048.8L850.3 1053.2L876.3 1057.6L884.1 1055.8L894.5 1050.6L904.9 1054.5L920.5 1054.5L925.7 1049.3L929.6 1053.2L933.5 1061.0L943.9 1066.2L956.9 1067.5L969.9 1071.4L982.9 1070.8L989.4 1059.7L994.6 1068.8L1008.9 1070.1L1021.9 1066.2L1034.9 1057.1L1047.9 1054.5L1050.5 1045.4L1050.0 1033.7L1054.4 1040.2L1058.3 1051.9L1066.1 1049.3L1076.5 1041.5L1085.6 1045.4L1099.9 1041.5L1106.4 1037.6L1106.4 1027.2L1112.9 1025.9L1123.3 1032.4L1138.9 1019.4L1148.0 1018.1L1150.6 1006.4L1151.9 990.8L1157.1 996.0L1159.7 1009.0L1167.5 1015.5L1177.8 1014.2L1179.1 1001.2L1184.3 1003.8L1190.8 1010.3L1201.2 1007.7L1205.1 998.6L1202.5 985.6L1209.0 990.8M1206.7 990.8L1210.6 996.0L1211.9 1003.8L1223.6 1001.2L1231.4 993.4L1233.5 985.1L1241.8 992.1L1257.4 986.9L1270.4 973.9L1274.3 964.8L1283.4 966.1L1293.8 959.6L1299.0 955.7M685.0 1164.9L669.4 1172.7L653.8 1183.1L643.5 1188.3L638.3 1203.9L627.9 1216.9L617.5 1227.3L607.1 1232.5L601.9 1245.5L591.5 1255.9L586.3 1263.7L575.9 1271.5L565.5 1284.5L560.3 1292.3L555.1 1279.3L547.3 1287.1L544.7 1300.1M673.3 1111.7L677.2 1123.3L685.0 1128.5M548.2 1300.0L535.2 1315.6L524.8 1328.6L519.6 1324.7L518.3 1316.9L514.4 1320.8L515.7 1333.8L511.8 1344.2L498.8 1361.1L488.4 1366.3L484.5 1378.0L475.4 1393.6L462.4 1411.8L452.0 1424.8L445.5 1422.2L444.2 1430.0L446.8 1433.9L441.6 1453.4L436.4 1468.9L431.2 1478.0L424.7 1474.1L418.2 1474.7L426.0 1479.3L429.9 1487.1L427.3 1513.1L422.1 1533.9L416.9 1557.3L413.0 1580.7L412.5 1601.5L410.4 1627.5L405.2 1645.7L403.9 1656.1L409.1 1666.5L410.4 1676.9L407.8 1689.9L403.9 1700.3L398.7 1710.7M399.4 1710.4L398.0 1717.7L390.7 1727.8L383.5 1738.0L374.7 1746.7L366.0 1753.9L360.2 1766.3" fill="none" stroke="#000" stroke-width="3.4" stroke-linejoin="round" stroke-linecap="round"/>
<path d="M164.8 148.8V1762.8M220.6 148.8V1762.8M276.4 148.8V1762.8M332.2 148.8V1762.8M388.0 148.8V1762.8M443.8 148.8V1762.8M499.5 148.8V1762.8M555.3 148.8V1762.8M611.1 148.8V1762.8M666.9 148.8V1762.8M722.7 148.8V1762.8M778.5 148.8V1762.8M834.3 148.8V1762.8M890.1 148.8V1762.8M945.9 148.8V1762.8M1001.7 148.8V1762.8M1057.4 148.8V1762.8M1113.2 148.8V1762.8M1169.0 148.8V1762.8M1224.8 148.8V1762.8M1280.6 148.8V1762.8M1336.4 148.8V1762.8M1392.2 148.8V1762.8M1448.0 148.8V1762.8M1503.8 148.8V1762.8M1559.5 148.8V1762.8M1615.3 148.8V1762.8M1671.1 148.8V1762.8M1726.9 148.8V1762.8M164.8 1762.8H1727.0M164.8 1694.7H1727.0M164.8 1626.3H1727.0M164.8 1557.4H1727.0M164.8 1488.0H1727.0M164.8 1418.2H1727.0M164.8 1347.9H1727.0M164.8 1277.1H1727.0M164.8 1205.9H1727.0M164.8 1134.1H1727.0M164.8 1061.8H1727.0M164.8 989.0H1727.0M164.8 915.6H1727.0M164.8 841.7H1727.0M164.8 767.2H1727.0M164.8 692.1H1727.0M164.8 616.5H1727.0M164.8 540.2H1727.0M164.8 463.2H1727.0M164.8 385.6H1727.0M164.8 307.4H1727.0M164.8 228.4H1727.0M164.8 148.8H1727.0" fill="none" stroke="#808080" stroke-opacity="0.5" stroke-width="2.1" stroke-dasharray="7.7 3.33"/>
</g>
<rect x="164.8" y="148.8" width="1562.2" height="1614.0" fill="none" stroke="#000" stroke-width="3.3"/>
<path d="M276.4 1762.8v14.6M499.5 1762.8v14.6M722.7 1762.8v14.6M945.9 1762.8v14.6M1169.0 1762.8v14.6M1392.2 1762.8v14.6M1615.3 1762.8v14.6M164.8 1626.3h-14.6M164.8 1347.9h-14.6M164.8 1061.8h-14.6M164.8 767.2h-14.6M164.8 463.2h-14.6M164.8 148.8h-14.6" stroke="#000" stroke-width="3.3" fill="none"/>
<path d="M164.8 1762.8v8.3M220.6 1762.8v8.3M332.2 1762.8v8.3M388.0 1762.8v8.3M443.8 1762.8v8.3M555.3 1762.8v8.3M611.1 1762.8v8.3M666.9 1762.8v8.3M778.5 1762.8v8.3M834.3 1762.8v8.3M890.1 1762.8v8.3M1001.7 1762.8v8.3M1057.4 1762.8v8.3M1113.2 1762.8v8.3M1224.8 1762.8v8.3M1280.6 1762.8v8.3M1336.4 1762.8v8.3M1448.0 1762.8v8.3M1503.8 1762.8v8.3M1559.5 1762.8v8.3M1671.1 1762.8v8.3M1726.9 1762.8v8.3M164.8 1762.8h-8.3M164.8 1694.7h-8.3M164.8 1557.4h-8.3M164.8 1488.0h-8.3M164.8 1418.2h-8.3M164.8 1277.1h-8.3M164.8 1205.9h-8.3M164.8 1134.1h-8.3M164.8 989.0h-8.3M164.8 915.6h-8.3M164.8 841.7h-8.3M164.8 692.1h-8.3M164.8 616.5h-8.3M164.8 540.2h-8.3M164.8 385.6h-8.3M164.8 307.4h-8.3M164.8 228.4h-8.3" stroke="#000" stroke-width="2.5" fill="none"/>
<text y="1824.6" font-size="42.5"><tspan x="218.4" textLength="112.8" lengthAdjust="spacingAndGlyphs">76°W</tspan></text>
<text y="1824.6" font-size="42.5"><tspan x="441.6" textLength="112.8" lengthAdjust="spacingAndGlyphs">74°W</tspan></text>
<text y="1824.6" font-size="42.5"><tspan x="664.7" textLength="112.8" lengthAdjust="spacingAndGlyphs">72°W</tspan></text>
<text y="1824.6" font-size="42.5"><tspan x="887.9" textLength="112.8" lengthAdjust="spacingAndGlyphs">70°W</tspan></text>
<text y="1824.6" font-size="42.5"><tspan x="1110.6" textLength="113.3" lengthAdjust="spacingAndGlyphs">68°W</tspan></text>
<text y="1824.6" font-size="42.5"><tspan x="1333.7" textLength="113.3" lengthAdjust="spacingAndGlyphs">66°W</tspan></text>
<text y="1824.6" font-size="42.5"><tspan x="1556.9" textLength="113.3" lengthAdjust="spacingAndGlyphs">64°W</tspan></text>
<text y="1642.1" font-size="42.5"><tspan x="31.2" textLength="103.3" lengthAdjust="spacingAndGlyphs">36°N</tspan></text>
<text y="1363.7" font-size="42.5"><tspan x="31.2" textLength="103.3" lengthAdjust="spacingAndGlyphs">38°N</tspan></text>
<text y="1077.6" font-size="42.5"><tspan x="30.8" textLength="103.7" lengthAdjust="spacingAndGlyphs">40°N</tspan></text>
<text y="783.0" font-size="42.5"><tspan x="30.8" textLength="103.7" lengthAdjust="spacingAndGlyphs">42°N</tspan></text>
<text y="479.0" font-size="42.5"><tspan x="30.8" textLength="103.7" lengthAdjust="spacingAndGlyphs">44°N</tspan></text>
<text y="164.6" font-size="42.5"><tspan x="30.8" textLength="103.7" lengthAdjust="spacingAndGlyphs">46°N</tspan></text>
<text y="68.2" font-size="51.0"><tspan x="106.5" textLength="224.6" lengthAdjust="spacingAndGlyphs">NOAA-19</tspan> <tspan x="349.1" textLength="87.5" lengthAdjust="spacingAndGlyphs">Sea</tspan> <tspan x="457.9" textLength="189.5" lengthAdjust="spacingAndGlyphs">Surface</tspan> <tspan x="662.0" textLength="334.3" lengthAdjust="spacingAndGlyphs">Temperature:</tspan> <tspan x="1013.2" textLength="260.8" lengthAdjust="spacingAndGlyphs">November</tspan> <tspan x="1289.8" textLength="60.4" lengthAdjust="spacingAndGlyphs">22</tspan> <tspan x="1369.3" textLength="125.3" lengthAdjust="spacingAndGlyphs">2020</tspan> <tspan x="1512.4" textLength="124.9" lengthAdjust="spacingAndGlyphs">2347</tspan> <tspan x="1655.0" textLength="113.5" lengthAdjust="spacingAndGlyphs">GMT</tspan></text>
<text y="123.2" font-size="51.0"><tspan x="354.3" textLength="192.0" lengthAdjust="spacingAndGlyphs">Rutgers</tspan> <tspan x="562.6" textLength="169.3" lengthAdjust="spacingAndGlyphs">Center</tspan> <tspan x="747.2" textLength="69.5" lengthAdjust="spacingAndGlyphs">for</tspan> <tspan x="831.8" textLength="158.9" lengthAdjust="spacingAndGlyphs">Ocean</tspan> <tspan x="1007.5" textLength="254.2" lengthAdjust="spacingAndGlyphs">Observing</tspan> <tspan x="1279.0" textLength="274.1" lengthAdjust="spacingAndGlyphs">Leadership</tspan></text>
<rect x="1892.4" y="148.8" width="99.6" height="1614.4" fill="url(#jet)" stroke="#000" stroke-width="3.3"/>
<text y="1715.5" font-size="42.5"><tspan x="1787.8" textLength="75.0" lengthAdjust="spacingAndGlyphs">8°C</tspan></text>
<text y="1389.7" font-size="42.5"><tspan x="1761.5" textLength="101.3" lengthAdjust="spacingAndGlyphs">12°C</tspan></text>
<text y="1063.9" font-size="42.5"><tspan x="1761.5" textLength="101.3" lengthAdjust="spacingAndGlyphs">16°C</tspan></text>
<text y="738.1" font-size="42.5"><tspan x="1761.1" textLength="101.7" lengthAdjust="spacingAndGlyphs">20°C</tspan></text>
<text y="412.3" font-size="42.5"><tspan x="1761.1" textLength="101.7" lengthAdjust="spacingAndGlyphs">24°C</tspan></text>
<text y="1778.9" font-size="42.5"><tspan x="2021.3" textLength="96.2" lengthAdjust="spacingAndGlyphs">45°F</tspan></text>
<text y="1462.1" font-size="42.5"><tspan x="2021.7" textLength="95.8" lengthAdjust="spacingAndGlyphs">52°F</tspan></text>
<text y="1145.4" font-size="42.5"><tspan x="2021.7" textLength="95.8" lengthAdjust="spacingAndGlyphs">59°F</tspan></text>
<text y="828.6" font-size="42.5"><tspan x="2020.9" textLength="96.6" lengthAdjust="spacingAndGlyphs">66°F</tspan></text>
<text y="511.8" font-size="42.5"><tspan x="2021.4" textLength="96.1" lengthAdjust="spacingAndGlyphs">73°F</tspan></text>
<text y="195.1" font-size="42.5"><tspan x="2021.2" textLength="96.4" lengthAdjust="spacingAndGlyphs">80°F</tspan></text>
<path d="M1890.8 1699.7h-14.6M1890.8 1373.9h-14.6M1890.8 1048.1h-14.6M1890.8 722.3h-14.6M1890.8 396.5h-14.6M1993.6 1763.1h14.6M1993.6 1446.3h14.6M1993.6 1129.6h14.6M1993.6 812.8h14.6M1993.6 496.0h14.6M1993.6 179.3h14.6" stroke="#000" stroke-width="3.3" fill="none"/>
<rect x="513.6" y="1864.3" width="864" height="73.7" rx="8" ry="8" fill="#fff" stroke="#d3d3d3" stroke-width="4.2"/>
<path d="M528 1898.5H616.6" stroke="#808080" stroke-width="7.5"/>
<path d="M958 1898.5H1047" stroke="#000" stroke-width="7.5"/>
<text y="1913.3" font-size="42.5"><tspan x="647.7" textLength="122.7" lengthAdjust="spacingAndGlyphs">25fth,</tspan> <tspan x="784.3" textLength="92.2" lengthAdjust="spacingAndGlyphs">45m</tspan></text>
<text y="1913.3" font-size="42.5"><tspan x="1076.8" textLength="148.9" lengthAdjust="spacingAndGlyphs">100fth,</tspan> <tspan x="1239.6" textLength="118.7" lengthAdjust="spacingAndGlyphs">182m</tspan></text>
</svg></body></html>
